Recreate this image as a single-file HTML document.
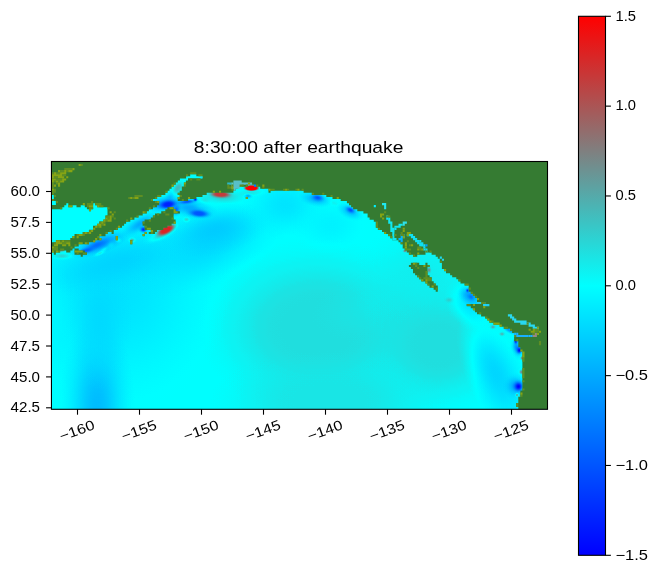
<!DOCTYPE html>
<html><head><meta charset="utf-8"><title>plot</title>
<style>html,body{margin:0;padding:0;background:#fff;width:658px;height:573px;overflow:hidden}svg{display:block;will-change:transform}text{font-family:"Liberation Sans",sans-serif;fill:#000}</style></head><body>
<svg width="658" height="573" viewBox="0 0 658 573">
<defs>
<linearGradient id="cb" x1="0" y1="0" x2="0" y2="1"><stop offset="0" stop-color="#ff0000"/><stop offset="0.5" stop-color="#00ffff"/><stop offset="1" stop-color="#0000ff"/></linearGradient>
<filter id="cm" filterUnits="userSpaceOnUse" x="40" y="150" width="520" height="270" color-interpolation-filters="sRGB"><feComponentTransfer><feFuncR type="table" tableValues="0 0 1"/><feFuncG type="table" tableValues="0 1 0"/><feFuncB type="table" tableValues="1 1 0"/></feComponentTransfer></filter>
<clipPath id="ax"><rect x="51.45" y="161.5" width="496.05" height="247.8"/></clipPath>
<radialGradient id="g1"><stop offset="0.00" stop-color="#717171" stop-opacity="1.000"/><stop offset="0.10" stop-color="#717171" stop-opacity="0.976"/><stop offset="0.20" stop-color="#717171" stop-opacity="0.905"/><stop offset="0.30" stop-color="#717171" stop-opacity="0.798"/><stop offset="0.40" stop-color="#717171" stop-opacity="0.666"/><stop offset="0.50" stop-color="#717171" stop-opacity="0.524"/><stop offset="0.60" stop-color="#717171" stop-opacity="0.385"/><stop offset="0.70" stop-color="#717171" stop-opacity="0.258"/><stop offset="0.80" stop-color="#717171" stop-opacity="0.151"/><stop offset="0.90" stop-color="#717171" stop-opacity="0.065"/><stop offset="1.00" stop-color="#717171" stop-opacity="0.000"/></radialGradient>
<radialGradient id="g2"><stop offset="0.00" stop-color="#5e5e5e" stop-opacity="1.000"/><stop offset="0.10" stop-color="#5e5e5e" stop-opacity="0.973"/><stop offset="0.20" stop-color="#5e5e5e" stop-opacity="0.896"/><stop offset="0.30" stop-color="#5e5e5e" stop-opacity="0.780"/><stop offset="0.40" stop-color="#5e5e5e" stop-opacity="0.641"/><stop offset="0.50" stop-color="#5e5e5e" stop-opacity="0.494"/><stop offset="0.60" stop-color="#5e5e5e" stop-opacity="0.354"/><stop offset="0.70" stop-color="#5e5e5e" stop-opacity="0.231"/><stop offset="0.80" stop-color="#5e5e5e" stop-opacity="0.131"/><stop offset="0.90" stop-color="#5e5e5e" stop-opacity="0.054"/><stop offset="1.00" stop-color="#5e5e5e" stop-opacity="0.000"/></radialGradient>
<radialGradient id="g3"><stop offset="0.00" stop-color="#6d6d6d" stop-opacity="1.000"/><stop offset="0.10" stop-color="#6d6d6d" stop-opacity="0.973"/><stop offset="0.20" stop-color="#6d6d6d" stop-opacity="0.896"/><stop offset="0.30" stop-color="#6d6d6d" stop-opacity="0.780"/><stop offset="0.40" stop-color="#6d6d6d" stop-opacity="0.641"/><stop offset="0.50" stop-color="#6d6d6d" stop-opacity="0.494"/><stop offset="0.60" stop-color="#6d6d6d" stop-opacity="0.354"/><stop offset="0.70" stop-color="#6d6d6d" stop-opacity="0.231"/><stop offset="0.80" stop-color="#6d6d6d" stop-opacity="0.131"/><stop offset="0.90" stop-color="#6d6d6d" stop-opacity="0.054"/><stop offset="1.00" stop-color="#6d6d6d" stop-opacity="0.000"/></radialGradient>
<radialGradient id="g4"><stop offset="0.00" stop-color="#6a6a6a" stop-opacity="1.000"/><stop offset="0.10" stop-color="#6a6a6a" stop-opacity="0.973"/><stop offset="0.20" stop-color="#6a6a6a" stop-opacity="0.896"/><stop offset="0.30" stop-color="#6a6a6a" stop-opacity="0.780"/><stop offset="0.40" stop-color="#6a6a6a" stop-opacity="0.641"/><stop offset="0.50" stop-color="#6a6a6a" stop-opacity="0.494"/><stop offset="0.60" stop-color="#6a6a6a" stop-opacity="0.354"/><stop offset="0.70" stop-color="#6a6a6a" stop-opacity="0.231"/><stop offset="0.80" stop-color="#6a6a6a" stop-opacity="0.131"/><stop offset="0.90" stop-color="#6a6a6a" stop-opacity="0.054"/><stop offset="1.00" stop-color="#6a6a6a" stop-opacity="0.000"/></radialGradient>
<radialGradient id="g5"><stop offset="0.00" stop-color="#6e6e6e" stop-opacity="1.000"/><stop offset="0.10" stop-color="#6e6e6e" stop-opacity="0.976"/><stop offset="0.20" stop-color="#6e6e6e" stop-opacity="0.905"/><stop offset="0.30" stop-color="#6e6e6e" stop-opacity="0.798"/><stop offset="0.40" stop-color="#6e6e6e" stop-opacity="0.666"/><stop offset="0.50" stop-color="#6e6e6e" stop-opacity="0.524"/><stop offset="0.60" stop-color="#6e6e6e" stop-opacity="0.385"/><stop offset="0.70" stop-color="#6e6e6e" stop-opacity="0.258"/><stop offset="0.80" stop-color="#6e6e6e" stop-opacity="0.151"/><stop offset="0.90" stop-color="#6e6e6e" stop-opacity="0.065"/><stop offset="1.00" stop-color="#6e6e6e" stop-opacity="0.000"/></radialGradient>
<radialGradient id="g6"><stop offset="0.00" stop-color="#666666" stop-opacity="1.000"/><stop offset="0.10" stop-color="#666666" stop-opacity="0.976"/><stop offset="0.20" stop-color="#666666" stop-opacity="0.905"/><stop offset="0.30" stop-color="#666666" stop-opacity="0.798"/><stop offset="0.40" stop-color="#666666" stop-opacity="0.666"/><stop offset="0.50" stop-color="#666666" stop-opacity="0.524"/><stop offset="0.60" stop-color="#666666" stop-opacity="0.385"/><stop offset="0.70" stop-color="#666666" stop-opacity="0.258"/><stop offset="0.80" stop-color="#666666" stop-opacity="0.151"/><stop offset="0.90" stop-color="#666666" stop-opacity="0.065"/><stop offset="1.00" stop-color="#666666" stop-opacity="0.000"/></radialGradient>
<radialGradient id="g7"><stop offset="0.00" stop-color="#7b7b7b" stop-opacity="1.000"/><stop offset="0.10" stop-color="#7b7b7b" stop-opacity="0.973"/><stop offset="0.20" stop-color="#7b7b7b" stop-opacity="0.896"/><stop offset="0.30" stop-color="#7b7b7b" stop-opacity="0.780"/><stop offset="0.40" stop-color="#7b7b7b" stop-opacity="0.641"/><stop offset="0.50" stop-color="#7b7b7b" stop-opacity="0.494"/><stop offset="0.60" stop-color="#7b7b7b" stop-opacity="0.354"/><stop offset="0.70" stop-color="#7b7b7b" stop-opacity="0.231"/><stop offset="0.80" stop-color="#7b7b7b" stop-opacity="0.131"/><stop offset="0.90" stop-color="#7b7b7b" stop-opacity="0.054"/><stop offset="1.00" stop-color="#7b7b7b" stop-opacity="0.000"/></radialGradient>
<radialGradient id="g8"><stop offset="0.00" stop-color="#727272" stop-opacity="1.000"/><stop offset="0.10" stop-color="#727272" stop-opacity="0.976"/><stop offset="0.20" stop-color="#727272" stop-opacity="0.905"/><stop offset="0.30" stop-color="#727272" stop-opacity="0.798"/><stop offset="0.40" stop-color="#727272" stop-opacity="0.666"/><stop offset="0.50" stop-color="#727272" stop-opacity="0.524"/><stop offset="0.60" stop-color="#727272" stop-opacity="0.385"/><stop offset="0.70" stop-color="#727272" stop-opacity="0.258"/><stop offset="0.80" stop-color="#727272" stop-opacity="0.151"/><stop offset="0.90" stop-color="#727272" stop-opacity="0.065"/><stop offset="1.00" stop-color="#727272" stop-opacity="0.000"/></radialGradient>
<radialGradient id="g9"><stop offset="0.00" stop-color="#797979" stop-opacity="1.000"/><stop offset="0.10" stop-color="#797979" stop-opacity="0.976"/><stop offset="0.20" stop-color="#797979" stop-opacity="0.905"/><stop offset="0.30" stop-color="#797979" stop-opacity="0.798"/><stop offset="0.40" stop-color="#797979" stop-opacity="0.666"/><stop offset="0.50" stop-color="#797979" stop-opacity="0.524"/><stop offset="0.60" stop-color="#797979" stop-opacity="0.385"/><stop offset="0.70" stop-color="#797979" stop-opacity="0.258"/><stop offset="0.80" stop-color="#797979" stop-opacity="0.151"/><stop offset="0.90" stop-color="#797979" stop-opacity="0.065"/><stop offset="1.00" stop-color="#797979" stop-opacity="0.000"/></radialGradient>
<radialGradient id="g10"><stop offset="0.00" stop-color="#909090" stop-opacity="1.000"/><stop offset="0.10" stop-color="#909090" stop-opacity="1.000"/><stop offset="0.20" stop-color="#909090" stop-opacity="1.000"/><stop offset="0.30" stop-color="#909090" stop-opacity="1.000"/><stop offset="0.40" stop-color="#909090" stop-opacity="0.946"/><stop offset="0.50" stop-color="#909090" stop-opacity="0.799"/><stop offset="0.60" stop-color="#909090" stop-opacity="0.599"/><stop offset="0.70" stop-color="#909090" stop-opacity="0.392"/><stop offset="0.80" stop-color="#909090" stop-opacity="0.215"/><stop offset="0.90" stop-color="#909090" stop-opacity="0.084"/><stop offset="1.00" stop-color="#909090" stop-opacity="0.000"/></radialGradient>
<radialGradient id="g11"><stop offset="0.00" stop-color="#8a8a8a" stop-opacity="1.000"/><stop offset="0.10" stop-color="#8a8a8a" stop-opacity="0.976"/><stop offset="0.20" stop-color="#8a8a8a" stop-opacity="0.905"/><stop offset="0.30" stop-color="#8a8a8a" stop-opacity="0.798"/><stop offset="0.40" stop-color="#8a8a8a" stop-opacity="0.666"/><stop offset="0.50" stop-color="#8a8a8a" stop-opacity="0.524"/><stop offset="0.60" stop-color="#8a8a8a" stop-opacity="0.385"/><stop offset="0.70" stop-color="#8a8a8a" stop-opacity="0.258"/><stop offset="0.80" stop-color="#8a8a8a" stop-opacity="0.151"/><stop offset="0.90" stop-color="#8a8a8a" stop-opacity="0.065"/><stop offset="1.00" stop-color="#8a8a8a" stop-opacity="0.000"/></radialGradient>
<radialGradient id="g12"><stop offset="0.00" stop-color="#909090" stop-opacity="1.000"/><stop offset="0.10" stop-color="#909090" stop-opacity="1.000"/><stop offset="0.20" stop-color="#909090" stop-opacity="1.000"/><stop offset="0.30" stop-color="#909090" stop-opacity="0.988"/><stop offset="0.40" stop-color="#909090" stop-opacity="0.896"/><stop offset="0.50" stop-color="#909090" stop-opacity="0.736"/><stop offset="0.60" stop-color="#909090" stop-opacity="0.543"/><stop offset="0.70" stop-color="#909090" stop-opacity="0.354"/><stop offset="0.80" stop-color="#909090" stop-opacity="0.195"/><stop offset="0.90" stop-color="#909090" stop-opacity="0.077"/><stop offset="1.00" stop-color="#909090" stop-opacity="0.000"/></radialGradient>
<radialGradient id="g13"><stop offset="0.00" stop-color="#888888" stop-opacity="1.000"/><stop offset="0.10" stop-color="#888888" stop-opacity="0.976"/><stop offset="0.20" stop-color="#888888" stop-opacity="0.905"/><stop offset="0.30" stop-color="#888888" stop-opacity="0.798"/><stop offset="0.40" stop-color="#888888" stop-opacity="0.666"/><stop offset="0.50" stop-color="#888888" stop-opacity="0.524"/><stop offset="0.60" stop-color="#888888" stop-opacity="0.385"/><stop offset="0.70" stop-color="#888888" stop-opacity="0.258"/><stop offset="0.80" stop-color="#888888" stop-opacity="0.151"/><stop offset="0.90" stop-color="#888888" stop-opacity="0.065"/><stop offset="1.00" stop-color="#888888" stop-opacity="0.000"/></radialGradient>
<radialGradient id="g14"><stop offset="0.00" stop-color="#8c8c8c" stop-opacity="1.000"/><stop offset="0.10" stop-color="#8c8c8c" stop-opacity="1.000"/><stop offset="0.20" stop-color="#8c8c8c" stop-opacity="1.000"/><stop offset="0.30" stop-color="#8c8c8c" stop-opacity="1.000"/><stop offset="0.40" stop-color="#8c8c8c" stop-opacity="0.946"/><stop offset="0.50" stop-color="#8c8c8c" stop-opacity="0.799"/><stop offset="0.60" stop-color="#8c8c8c" stop-opacity="0.599"/><stop offset="0.70" stop-color="#8c8c8c" stop-opacity="0.392"/><stop offset="0.80" stop-color="#8c8c8c" stop-opacity="0.215"/><stop offset="0.90" stop-color="#8c8c8c" stop-opacity="0.084"/><stop offset="1.00" stop-color="#8c8c8c" stop-opacity="0.000"/></radialGradient>
<radialGradient id="g15"><stop offset="0.00" stop-color="#6b6b6b" stop-opacity="1.000"/><stop offset="0.10" stop-color="#6b6b6b" stop-opacity="0.977"/><stop offset="0.20" stop-color="#6b6b6b" stop-opacity="0.911"/><stop offset="0.30" stop-color="#6b6b6b" stop-opacity="0.809"/><stop offset="0.40" stop-color="#6b6b6b" stop-opacity="0.683"/><stop offset="0.50" stop-color="#6b6b6b" stop-opacity="0.545"/><stop offset="0.60" stop-color="#6b6b6b" stop-opacity="0.406"/><stop offset="0.70" stop-color="#6b6b6b" stop-opacity="0.278"/><stop offset="0.80" stop-color="#6b6b6b" stop-opacity="0.165"/><stop offset="0.90" stop-color="#6b6b6b" stop-opacity="0.072"/><stop offset="1.00" stop-color="#6b6b6b" stop-opacity="0.000"/></radialGradient>
<radialGradient id="g16"><stop offset="0.00" stop-color="#737373" stop-opacity="1.000"/><stop offset="0.10" stop-color="#737373" stop-opacity="0.976"/><stop offset="0.20" stop-color="#737373" stop-opacity="0.905"/><stop offset="0.30" stop-color="#737373" stop-opacity="0.798"/><stop offset="0.40" stop-color="#737373" stop-opacity="0.666"/><stop offset="0.50" stop-color="#737373" stop-opacity="0.524"/><stop offset="0.60" stop-color="#737373" stop-opacity="0.385"/><stop offset="0.70" stop-color="#737373" stop-opacity="0.258"/><stop offset="0.80" stop-color="#737373" stop-opacity="0.151"/><stop offset="0.90" stop-color="#737373" stop-opacity="0.065"/><stop offset="1.00" stop-color="#737373" stop-opacity="0.000"/></radialGradient>
<radialGradient id="g17"><stop offset="0.00" stop-color="#444444" stop-opacity="1.000"/><stop offset="0.10" stop-color="#444444" stop-opacity="0.973"/><stop offset="0.20" stop-color="#444444" stop-opacity="0.896"/><stop offset="0.30" stop-color="#444444" stop-opacity="0.780"/><stop offset="0.40" stop-color="#444444" stop-opacity="0.641"/><stop offset="0.50" stop-color="#444444" stop-opacity="0.494"/><stop offset="0.60" stop-color="#444444" stop-opacity="0.354"/><stop offset="0.70" stop-color="#444444" stop-opacity="0.231"/><stop offset="0.80" stop-color="#444444" stop-opacity="0.131"/><stop offset="0.90" stop-color="#444444" stop-opacity="0.054"/><stop offset="1.00" stop-color="#444444" stop-opacity="0.000"/></radialGradient>
<radialGradient id="g18"><stop offset="0.00" stop-color="#333333" stop-opacity="1.000"/><stop offset="0.10" stop-color="#333333" stop-opacity="0.960"/><stop offset="0.20" stop-color="#333333" stop-opacity="0.849"/><stop offset="0.30" stop-color="#333333" stop-opacity="0.692"/><stop offset="0.40" stop-color="#333333" stop-opacity="0.518"/><stop offset="0.50" stop-color="#333333" stop-opacity="0.356"/><stop offset="0.60" stop-color="#333333" stop-opacity="0.223"/><stop offset="0.70" stop-color="#333333" stop-opacity="0.125"/><stop offset="0.80" stop-color="#333333" stop-opacity="0.060"/><stop offset="0.90" stop-color="#333333" stop-opacity="0.021"/><stop offset="1.00" stop-color="#333333" stop-opacity="0.000"/></radialGradient>
<radialGradient id="g19"><stop offset="0.00" stop-color="#373737" stop-opacity="1.000"/><stop offset="0.10" stop-color="#373737" stop-opacity="0.960"/><stop offset="0.20" stop-color="#373737" stop-opacity="0.849"/><stop offset="0.30" stop-color="#373737" stop-opacity="0.692"/><stop offset="0.40" stop-color="#373737" stop-opacity="0.518"/><stop offset="0.50" stop-color="#373737" stop-opacity="0.356"/><stop offset="0.60" stop-color="#373737" stop-opacity="0.223"/><stop offset="0.70" stop-color="#373737" stop-opacity="0.125"/><stop offset="0.80" stop-color="#373737" stop-opacity="0.060"/><stop offset="0.90" stop-color="#373737" stop-opacity="0.021"/><stop offset="1.00" stop-color="#373737" stop-opacity="0.000"/></radialGradient>
<radialGradient id="g20"><stop offset="0.00" stop-color="#2b2b2b" stop-opacity="1.000"/><stop offset="0.10" stop-color="#2b2b2b" stop-opacity="0.960"/><stop offset="0.20" stop-color="#2b2b2b" stop-opacity="0.849"/><stop offset="0.30" stop-color="#2b2b2b" stop-opacity="0.692"/><stop offset="0.40" stop-color="#2b2b2b" stop-opacity="0.518"/><stop offset="0.50" stop-color="#2b2b2b" stop-opacity="0.356"/><stop offset="0.60" stop-color="#2b2b2b" stop-opacity="0.223"/><stop offset="0.70" stop-color="#2b2b2b" stop-opacity="0.125"/><stop offset="0.80" stop-color="#2b2b2b" stop-opacity="0.060"/><stop offset="0.90" stop-color="#2b2b2b" stop-opacity="0.021"/><stop offset="1.00" stop-color="#2b2b2b" stop-opacity="0.000"/></radialGradient>
<radialGradient id="g21"><stop offset="0.00" stop-color="#959595" stop-opacity="1.000"/><stop offset="0.10" stop-color="#959595" stop-opacity="0.960"/><stop offset="0.20" stop-color="#959595" stop-opacity="0.849"/><stop offset="0.30" stop-color="#959595" stop-opacity="0.692"/><stop offset="0.40" stop-color="#959595" stop-opacity="0.518"/><stop offset="0.50" stop-color="#959595" stop-opacity="0.356"/><stop offset="0.60" stop-color="#959595" stop-opacity="0.223"/><stop offset="0.70" stop-color="#959595" stop-opacity="0.125"/><stop offset="0.80" stop-color="#959595" stop-opacity="0.060"/><stop offset="0.90" stop-color="#959595" stop-opacity="0.021"/><stop offset="1.00" stop-color="#959595" stop-opacity="0.000"/></radialGradient>
<radialGradient id="g22"><stop offset="0.00" stop-color="#929292" stop-opacity="1.000"/><stop offset="0.10" stop-color="#929292" stop-opacity="0.960"/><stop offset="0.20" stop-color="#929292" stop-opacity="0.849"/><stop offset="0.30" stop-color="#929292" stop-opacity="0.692"/><stop offset="0.40" stop-color="#929292" stop-opacity="0.518"/><stop offset="0.50" stop-color="#929292" stop-opacity="0.356"/><stop offset="0.60" stop-color="#929292" stop-opacity="0.223"/><stop offset="0.70" stop-color="#929292" stop-opacity="0.125"/><stop offset="0.80" stop-color="#929292" stop-opacity="0.060"/><stop offset="0.90" stop-color="#929292" stop-opacity="0.021"/><stop offset="1.00" stop-color="#929292" stop-opacity="0.000"/></radialGradient>
<radialGradient id="g23"><stop offset="0.00" stop-color="#929292" stop-opacity="1.000"/><stop offset="0.10" stop-color="#929292" stop-opacity="0.960"/><stop offset="0.20" stop-color="#929292" stop-opacity="0.849"/><stop offset="0.30" stop-color="#929292" stop-opacity="0.692"/><stop offset="0.40" stop-color="#929292" stop-opacity="0.518"/><stop offset="0.50" stop-color="#929292" stop-opacity="0.356"/><stop offset="0.60" stop-color="#929292" stop-opacity="0.223"/><stop offset="0.70" stop-color="#929292" stop-opacity="0.125"/><stop offset="0.80" stop-color="#929292" stop-opacity="0.060"/><stop offset="0.90" stop-color="#929292" stop-opacity="0.021"/><stop offset="1.00" stop-color="#929292" stop-opacity="0.000"/></radialGradient>
<radialGradient id="g24"><stop offset="0.00" stop-color="#a6a6a6" stop-opacity="1.000"/><stop offset="0.10" stop-color="#a6a6a6" stop-opacity="0.960"/><stop offset="0.20" stop-color="#a6a6a6" stop-opacity="0.849"/><stop offset="0.30" stop-color="#a6a6a6" stop-opacity="0.692"/><stop offset="0.40" stop-color="#a6a6a6" stop-opacity="0.518"/><stop offset="0.50" stop-color="#a6a6a6" stop-opacity="0.356"/><stop offset="0.60" stop-color="#a6a6a6" stop-opacity="0.223"/><stop offset="0.70" stop-color="#a6a6a6" stop-opacity="0.125"/><stop offset="0.80" stop-color="#a6a6a6" stop-opacity="0.060"/><stop offset="0.90" stop-color="#a6a6a6" stop-opacity="0.021"/><stop offset="1.00" stop-color="#a6a6a6" stop-opacity="0.000"/></radialGradient>
<radialGradient id="g25"><stop offset="0.00" stop-color="#999999" stop-opacity="1.000"/><stop offset="0.10" stop-color="#999999" stop-opacity="0.960"/><stop offset="0.20" stop-color="#999999" stop-opacity="0.849"/><stop offset="0.30" stop-color="#999999" stop-opacity="0.692"/><stop offset="0.40" stop-color="#999999" stop-opacity="0.518"/><stop offset="0.50" stop-color="#999999" stop-opacity="0.356"/><stop offset="0.60" stop-color="#999999" stop-opacity="0.223"/><stop offset="0.70" stop-color="#999999" stop-opacity="0.125"/><stop offset="0.80" stop-color="#999999" stop-opacity="0.060"/><stop offset="0.90" stop-color="#999999" stop-opacity="0.021"/><stop offset="1.00" stop-color="#999999" stop-opacity="0.000"/></radialGradient>
<radialGradient id="g26"><stop offset="0.00" stop-color="#c3c3c3" stop-opacity="1.000"/><stop offset="0.10" stop-color="#c3c3c3" stop-opacity="0.960"/><stop offset="0.20" stop-color="#c3c3c3" stop-opacity="0.849"/><stop offset="0.30" stop-color="#c3c3c3" stop-opacity="0.692"/><stop offset="0.40" stop-color="#c3c3c3" stop-opacity="0.518"/><stop offset="0.50" stop-color="#c3c3c3" stop-opacity="0.356"/><stop offset="0.60" stop-color="#c3c3c3" stop-opacity="0.223"/><stop offset="0.70" stop-color="#c3c3c3" stop-opacity="0.125"/><stop offset="0.80" stop-color="#c3c3c3" stop-opacity="0.060"/><stop offset="0.90" stop-color="#c3c3c3" stop-opacity="0.021"/><stop offset="1.00" stop-color="#c3c3c3" stop-opacity="0.000"/></radialGradient>
<radialGradient id="g27"><stop offset="0.00" stop-color="#959595" stop-opacity="1.000"/><stop offset="0.10" stop-color="#959595" stop-opacity="0.960"/><stop offset="0.20" stop-color="#959595" stop-opacity="0.849"/><stop offset="0.30" stop-color="#959595" stop-opacity="0.692"/><stop offset="0.40" stop-color="#959595" stop-opacity="0.518"/><stop offset="0.50" stop-color="#959595" stop-opacity="0.356"/><stop offset="0.60" stop-color="#959595" stop-opacity="0.223"/><stop offset="0.70" stop-color="#959595" stop-opacity="0.125"/><stop offset="0.80" stop-color="#959595" stop-opacity="0.060"/><stop offset="0.90" stop-color="#959595" stop-opacity="0.021"/><stop offset="1.00" stop-color="#959595" stop-opacity="0.000"/></radialGradient>
<radialGradient id="g28"><stop offset="0.00" stop-color="#555555" stop-opacity="1.000"/><stop offset="0.10" stop-color="#555555" stop-opacity="0.973"/><stop offset="0.20" stop-color="#555555" stop-opacity="0.896"/><stop offset="0.30" stop-color="#555555" stop-opacity="0.780"/><stop offset="0.40" stop-color="#555555" stop-opacity="0.641"/><stop offset="0.50" stop-color="#555555" stop-opacity="0.494"/><stop offset="0.60" stop-color="#555555" stop-opacity="0.354"/><stop offset="0.70" stop-color="#555555" stop-opacity="0.231"/><stop offset="0.80" stop-color="#555555" stop-opacity="0.131"/><stop offset="0.90" stop-color="#555555" stop-opacity="0.054"/><stop offset="1.00" stop-color="#555555" stop-opacity="0.000"/></radialGradient>
<radialGradient id="g29"><stop offset="0.00" stop-color="#111111" stop-opacity="1.000"/><stop offset="0.10" stop-color="#111111" stop-opacity="0.960"/><stop offset="0.20" stop-color="#111111" stop-opacity="0.849"/><stop offset="0.30" stop-color="#111111" stop-opacity="0.692"/><stop offset="0.40" stop-color="#111111" stop-opacity="0.518"/><stop offset="0.50" stop-color="#111111" stop-opacity="0.356"/><stop offset="0.60" stop-color="#111111" stop-opacity="0.223"/><stop offset="0.70" stop-color="#111111" stop-opacity="0.125"/><stop offset="0.80" stop-color="#111111" stop-opacity="0.060"/><stop offset="0.90" stop-color="#111111" stop-opacity="0.021"/><stop offset="1.00" stop-color="#111111" stop-opacity="0.000"/></radialGradient>
<radialGradient id="g30"><stop offset="0.00" stop-color="#444444" stop-opacity="1.000"/><stop offset="0.10" stop-color="#444444" stop-opacity="0.973"/><stop offset="0.20" stop-color="#444444" stop-opacity="0.896"/><stop offset="0.30" stop-color="#444444" stop-opacity="0.780"/><stop offset="0.40" stop-color="#444444" stop-opacity="0.641"/><stop offset="0.50" stop-color="#444444" stop-opacity="0.494"/><stop offset="0.60" stop-color="#444444" stop-opacity="0.354"/><stop offset="0.70" stop-color="#444444" stop-opacity="0.231"/><stop offset="0.80" stop-color="#444444" stop-opacity="0.131"/><stop offset="0.90" stop-color="#444444" stop-opacity="0.054"/><stop offset="1.00" stop-color="#444444" stop-opacity="0.000"/></radialGradient>
<radialGradient id="g31"><stop offset="0.00" stop-color="#111111" stop-opacity="1.000"/><stop offset="0.10" stop-color="#111111" stop-opacity="1.000"/><stop offset="0.20" stop-color="#111111" stop-opacity="1.000"/><stop offset="0.30" stop-color="#111111" stop-opacity="0.938"/><stop offset="0.40" stop-color="#111111" stop-opacity="0.775"/><stop offset="0.50" stop-color="#111111" stop-opacity="0.562"/><stop offset="0.60" stop-color="#111111" stop-opacity="0.356"/><stop offset="0.70" stop-color="#111111" stop-opacity="0.195"/><stop offset="0.80" stop-color="#111111" stop-opacity="0.089"/><stop offset="0.90" stop-color="#111111" stop-opacity="0.029"/><stop offset="1.00" stop-color="#111111" stop-opacity="0.000"/></radialGradient>
<radialGradient id="g32"><stop offset="0.00" stop-color="#333333" stop-opacity="1.000"/><stop offset="0.10" stop-color="#333333" stop-opacity="0.960"/><stop offset="0.20" stop-color="#333333" stop-opacity="0.849"/><stop offset="0.30" stop-color="#333333" stop-opacity="0.692"/><stop offset="0.40" stop-color="#333333" stop-opacity="0.518"/><stop offset="0.50" stop-color="#333333" stop-opacity="0.356"/><stop offset="0.60" stop-color="#333333" stop-opacity="0.223"/><stop offset="0.70" stop-color="#333333" stop-opacity="0.125"/><stop offset="0.80" stop-color="#333333" stop-opacity="0.060"/><stop offset="0.90" stop-color="#333333" stop-opacity="0.021"/><stop offset="1.00" stop-color="#333333" stop-opacity="0.000"/></radialGradient>
<radialGradient id="g33"><stop offset="0.00" stop-color="#555555" stop-opacity="1.000"/><stop offset="0.10" stop-color="#555555" stop-opacity="0.973"/><stop offset="0.20" stop-color="#555555" stop-opacity="0.896"/><stop offset="0.30" stop-color="#555555" stop-opacity="0.780"/><stop offset="0.40" stop-color="#555555" stop-opacity="0.641"/><stop offset="0.50" stop-color="#555555" stop-opacity="0.494"/><stop offset="0.60" stop-color="#555555" stop-opacity="0.354"/><stop offset="0.70" stop-color="#555555" stop-opacity="0.231"/><stop offset="0.80" stop-color="#555555" stop-opacity="0.131"/><stop offset="0.90" stop-color="#555555" stop-opacity="0.054"/><stop offset="1.00" stop-color="#555555" stop-opacity="0.000"/></radialGradient>
<radialGradient id="g34"><stop offset="0.00" stop-color="#2b2b2b" stop-opacity="1.000"/><stop offset="0.10" stop-color="#2b2b2b" stop-opacity="1.000"/><stop offset="0.20" stop-color="#2b2b2b" stop-opacity="1.000"/><stop offset="0.30" stop-color="#2b2b2b" stop-opacity="0.938"/><stop offset="0.40" stop-color="#2b2b2b" stop-opacity="0.775"/><stop offset="0.50" stop-color="#2b2b2b" stop-opacity="0.562"/><stop offset="0.60" stop-color="#2b2b2b" stop-opacity="0.356"/><stop offset="0.70" stop-color="#2b2b2b" stop-opacity="0.195"/><stop offset="0.80" stop-color="#2b2b2b" stop-opacity="0.089"/><stop offset="0.90" stop-color="#2b2b2b" stop-opacity="0.029"/><stop offset="1.00" stop-color="#2b2b2b" stop-opacity="0.000"/></radialGradient>
<radialGradient id="g35"><stop offset="0.00" stop-color="#2b2b2b" stop-opacity="1.000"/><stop offset="0.10" stop-color="#2b2b2b" stop-opacity="0.960"/><stop offset="0.20" stop-color="#2b2b2b" stop-opacity="0.849"/><stop offset="0.30" stop-color="#2b2b2b" stop-opacity="0.692"/><stop offset="0.40" stop-color="#2b2b2b" stop-opacity="0.518"/><stop offset="0.50" stop-color="#2b2b2b" stop-opacity="0.356"/><stop offset="0.60" stop-color="#2b2b2b" stop-opacity="0.223"/><stop offset="0.70" stop-color="#2b2b2b" stop-opacity="0.125"/><stop offset="0.80" stop-color="#2b2b2b" stop-opacity="0.060"/><stop offset="0.90" stop-color="#2b2b2b" stop-opacity="0.021"/><stop offset="1.00" stop-color="#2b2b2b" stop-opacity="0.000"/></radialGradient>
<radialGradient id="g36"><stop offset="0.00" stop-color="#090909" stop-opacity="1.000"/><stop offset="0.10" stop-color="#090909" stop-opacity="0.960"/><stop offset="0.20" stop-color="#090909" stop-opacity="0.849"/><stop offset="0.30" stop-color="#090909" stop-opacity="0.692"/><stop offset="0.40" stop-color="#090909" stop-opacity="0.518"/><stop offset="0.50" stop-color="#090909" stop-opacity="0.356"/><stop offset="0.60" stop-color="#090909" stop-opacity="0.223"/><stop offset="0.70" stop-color="#090909" stop-opacity="0.125"/><stop offset="0.80" stop-color="#090909" stop-opacity="0.060"/><stop offset="0.90" stop-color="#090909" stop-opacity="0.021"/><stop offset="1.00" stop-color="#090909" stop-opacity="0.000"/></radialGradient>
<radialGradient id="g37"><stop offset="0.00" stop-color="#959595" stop-opacity="1.000"/><stop offset="0.10" stop-color="#959595" stop-opacity="0.960"/><stop offset="0.20" stop-color="#959595" stop-opacity="0.849"/><stop offset="0.30" stop-color="#959595" stop-opacity="0.692"/><stop offset="0.40" stop-color="#959595" stop-opacity="0.518"/><stop offset="0.50" stop-color="#959595" stop-opacity="0.356"/><stop offset="0.60" stop-color="#959595" stop-opacity="0.223"/><stop offset="0.70" stop-color="#959595" stop-opacity="0.125"/><stop offset="0.80" stop-color="#959595" stop-opacity="0.060"/><stop offset="0.90" stop-color="#959595" stop-opacity="0.021"/><stop offset="1.00" stop-color="#959595" stop-opacity="0.000"/></radialGradient>
<radialGradient id="g38"><stop offset="0.00" stop-color="#909090" stop-opacity="1.000"/><stop offset="0.10" stop-color="#909090" stop-opacity="0.960"/><stop offset="0.20" stop-color="#909090" stop-opacity="0.849"/><stop offset="0.30" stop-color="#909090" stop-opacity="0.692"/><stop offset="0.40" stop-color="#909090" stop-opacity="0.518"/><stop offset="0.50" stop-color="#909090" stop-opacity="0.356"/><stop offset="0.60" stop-color="#909090" stop-opacity="0.223"/><stop offset="0.70" stop-color="#909090" stop-opacity="0.125"/><stop offset="0.80" stop-color="#909090" stop-opacity="0.060"/><stop offset="0.90" stop-color="#909090" stop-opacity="0.021"/><stop offset="1.00" stop-color="#909090" stop-opacity="0.000"/></radialGradient>
<radialGradient id="g39"><stop offset="0.00" stop-color="#a2a2a2" stop-opacity="1.000"/><stop offset="0.10" stop-color="#a2a2a2" stop-opacity="0.960"/><stop offset="0.20" stop-color="#a2a2a2" stop-opacity="0.849"/><stop offset="0.30" stop-color="#a2a2a2" stop-opacity="0.692"/><stop offset="0.40" stop-color="#a2a2a2" stop-opacity="0.518"/><stop offset="0.50" stop-color="#a2a2a2" stop-opacity="0.356"/><stop offset="0.60" stop-color="#a2a2a2" stop-opacity="0.223"/><stop offset="0.70" stop-color="#a2a2a2" stop-opacity="0.125"/><stop offset="0.80" stop-color="#a2a2a2" stop-opacity="0.060"/><stop offset="0.90" stop-color="#a2a2a2" stop-opacity="0.021"/><stop offset="1.00" stop-color="#a2a2a2" stop-opacity="0.000"/></radialGradient>
<radialGradient id="g40"><stop offset="0.00" stop-color="#666666" stop-opacity="1.000"/><stop offset="0.10" stop-color="#666666" stop-opacity="0.960"/><stop offset="0.20" stop-color="#666666" stop-opacity="0.849"/><stop offset="0.30" stop-color="#666666" stop-opacity="0.692"/><stop offset="0.40" stop-color="#666666" stop-opacity="0.518"/><stop offset="0.50" stop-color="#666666" stop-opacity="0.356"/><stop offset="0.60" stop-color="#666666" stop-opacity="0.223"/><stop offset="0.70" stop-color="#666666" stop-opacity="0.125"/><stop offset="0.80" stop-color="#666666" stop-opacity="0.060"/><stop offset="0.90" stop-color="#666666" stop-opacity="0.021"/><stop offset="1.00" stop-color="#666666" stop-opacity="0.000"/></radialGradient>
<radialGradient id="g41"><stop offset="0.00" stop-color="#ececec" stop-opacity="1.000"/><stop offset="0.10" stop-color="#ececec" stop-opacity="1.000"/><stop offset="0.20" stop-color="#ececec" stop-opacity="1.000"/><stop offset="0.30" stop-color="#ececec" stop-opacity="1.000"/><stop offset="0.40" stop-color="#ececec" stop-opacity="0.920"/><stop offset="0.50" stop-color="#ececec" stop-opacity="0.716"/><stop offset="0.60" stop-color="#ececec" stop-opacity="0.470"/><stop offset="0.70" stop-color="#ececec" stop-opacity="0.257"/><stop offset="0.80" stop-color="#ececec" stop-opacity="0.114"/><stop offset="0.90" stop-color="#ececec" stop-opacity="0.035"/><stop offset="1.00" stop-color="#ececec" stop-opacity="0.000"/></radialGradient>
<radialGradient id="g42"><stop offset="0.00" stop-color="#909090" stop-opacity="1.000"/><stop offset="0.10" stop-color="#909090" stop-opacity="0.960"/><stop offset="0.20" stop-color="#909090" stop-opacity="0.849"/><stop offset="0.30" stop-color="#909090" stop-opacity="0.692"/><stop offset="0.40" stop-color="#909090" stop-opacity="0.518"/><stop offset="0.50" stop-color="#909090" stop-opacity="0.356"/><stop offset="0.60" stop-color="#909090" stop-opacity="0.223"/><stop offset="0.70" stop-color="#909090" stop-opacity="0.125"/><stop offset="0.80" stop-color="#909090" stop-opacity="0.060"/><stop offset="0.90" stop-color="#909090" stop-opacity="0.021"/><stop offset="1.00" stop-color="#909090" stop-opacity="0.000"/></radialGradient>
<radialGradient id="g43"><stop offset="0.00" stop-color="#e1e1e1" stop-opacity="1.000"/><stop offset="0.10" stop-color="#e1e1e1" stop-opacity="1.000"/><stop offset="0.20" stop-color="#e1e1e1" stop-opacity="1.000"/><stop offset="0.30" stop-color="#e1e1e1" stop-opacity="1.000"/><stop offset="0.40" stop-color="#e1e1e1" stop-opacity="0.920"/><stop offset="0.50" stop-color="#e1e1e1" stop-opacity="0.716"/><stop offset="0.60" stop-color="#e1e1e1" stop-opacity="0.470"/><stop offset="0.70" stop-color="#e1e1e1" stop-opacity="0.257"/><stop offset="0.80" stop-color="#e1e1e1" stop-opacity="0.114"/><stop offset="0.90" stop-color="#e1e1e1" stop-opacity="0.035"/><stop offset="1.00" stop-color="#e1e1e1" stop-opacity="0.000"/></radialGradient>
<radialGradient id="g44"><stop offset="0.00" stop-color="#999999" stop-opacity="1.000"/><stop offset="0.10" stop-color="#999999" stop-opacity="0.973"/><stop offset="0.20" stop-color="#999999" stop-opacity="0.896"/><stop offset="0.30" stop-color="#999999" stop-opacity="0.780"/><stop offset="0.40" stop-color="#999999" stop-opacity="0.641"/><stop offset="0.50" stop-color="#999999" stop-opacity="0.494"/><stop offset="0.60" stop-color="#999999" stop-opacity="0.354"/><stop offset="0.70" stop-color="#999999" stop-opacity="0.231"/><stop offset="0.80" stop-color="#999999" stop-opacity="0.131"/><stop offset="0.90" stop-color="#999999" stop-opacity="0.054"/><stop offset="1.00" stop-color="#999999" stop-opacity="0.000"/></radialGradient>
<radialGradient id="g45"><stop offset="0.00" stop-color="#ffffff" stop-opacity="1.000"/><stop offset="0.10" stop-color="#ffffff" stop-opacity="1.000"/><stop offset="0.20" stop-color="#ffffff" stop-opacity="1.000"/><stop offset="0.30" stop-color="#ffffff" stop-opacity="1.000"/><stop offset="0.40" stop-color="#ffffff" stop-opacity="1.000"/><stop offset="0.50" stop-color="#ffffff" stop-opacity="1.000"/><stop offset="0.60" stop-color="#ffffff" stop-opacity="0.951"/><stop offset="0.70" stop-color="#ffffff" stop-opacity="0.634"/><stop offset="0.80" stop-color="#ffffff" stop-opacity="0.278"/><stop offset="0.90" stop-color="#ffffff" stop-opacity="0.072"/><stop offset="1.00" stop-color="#ffffff" stop-opacity="0.000"/></radialGradient>
<radialGradient id="g46"><stop offset="0.00" stop-color="#8c8c8c" stop-opacity="1.000"/><stop offset="0.10" stop-color="#8c8c8c" stop-opacity="0.960"/><stop offset="0.20" stop-color="#8c8c8c" stop-opacity="0.849"/><stop offset="0.30" stop-color="#8c8c8c" stop-opacity="0.692"/><stop offset="0.40" stop-color="#8c8c8c" stop-opacity="0.518"/><stop offset="0.50" stop-color="#8c8c8c" stop-opacity="0.356"/><stop offset="0.60" stop-color="#8c8c8c" stop-opacity="0.223"/><stop offset="0.70" stop-color="#8c8c8c" stop-opacity="0.125"/><stop offset="0.80" stop-color="#8c8c8c" stop-opacity="0.060"/><stop offset="0.90" stop-color="#8c8c8c" stop-opacity="0.021"/><stop offset="1.00" stop-color="#8c8c8c" stop-opacity="0.000"/></radialGradient>
<radialGradient id="g47"><stop offset="0.00" stop-color="#555555" stop-opacity="1.000"/><stop offset="0.10" stop-color="#555555" stop-opacity="0.960"/><stop offset="0.20" stop-color="#555555" stop-opacity="0.849"/><stop offset="0.30" stop-color="#555555" stop-opacity="0.692"/><stop offset="0.40" stop-color="#555555" stop-opacity="0.518"/><stop offset="0.50" stop-color="#555555" stop-opacity="0.356"/><stop offset="0.60" stop-color="#555555" stop-opacity="0.223"/><stop offset="0.70" stop-color="#555555" stop-opacity="0.125"/><stop offset="0.80" stop-color="#555555" stop-opacity="0.060"/><stop offset="0.90" stop-color="#555555" stop-opacity="0.021"/><stop offset="1.00" stop-color="#555555" stop-opacity="0.000"/></radialGradient>
<radialGradient id="g48"><stop offset="0.00" stop-color="#8c8c8c" stop-opacity="1.000"/><stop offset="0.10" stop-color="#8c8c8c" stop-opacity="0.960"/><stop offset="0.20" stop-color="#8c8c8c" stop-opacity="0.849"/><stop offset="0.30" stop-color="#8c8c8c" stop-opacity="0.692"/><stop offset="0.40" stop-color="#8c8c8c" stop-opacity="0.518"/><stop offset="0.50" stop-color="#8c8c8c" stop-opacity="0.356"/><stop offset="0.60" stop-color="#8c8c8c" stop-opacity="0.223"/><stop offset="0.70" stop-color="#8c8c8c" stop-opacity="0.125"/><stop offset="0.80" stop-color="#8c8c8c" stop-opacity="0.060"/><stop offset="0.90" stop-color="#8c8c8c" stop-opacity="0.021"/><stop offset="1.00" stop-color="#8c8c8c" stop-opacity="0.000"/></radialGradient>
<radialGradient id="g49"><stop offset="0.00" stop-color="#2b2b2b" stop-opacity="1.000"/><stop offset="0.10" stop-color="#2b2b2b" stop-opacity="0.960"/><stop offset="0.20" stop-color="#2b2b2b" stop-opacity="0.849"/><stop offset="0.30" stop-color="#2b2b2b" stop-opacity="0.692"/><stop offset="0.40" stop-color="#2b2b2b" stop-opacity="0.518"/><stop offset="0.50" stop-color="#2b2b2b" stop-opacity="0.356"/><stop offset="0.60" stop-color="#2b2b2b" stop-opacity="0.223"/><stop offset="0.70" stop-color="#2b2b2b" stop-opacity="0.125"/><stop offset="0.80" stop-color="#2b2b2b" stop-opacity="0.060"/><stop offset="0.90" stop-color="#2b2b2b" stop-opacity="0.021"/><stop offset="1.00" stop-color="#2b2b2b" stop-opacity="0.000"/></radialGradient>
<radialGradient id="g50"><stop offset="0.00" stop-color="#595959" stop-opacity="1.000"/><stop offset="0.10" stop-color="#595959" stop-opacity="0.973"/><stop offset="0.20" stop-color="#595959" stop-opacity="0.896"/><stop offset="0.30" stop-color="#595959" stop-opacity="0.780"/><stop offset="0.40" stop-color="#595959" stop-opacity="0.641"/><stop offset="0.50" stop-color="#595959" stop-opacity="0.494"/><stop offset="0.60" stop-color="#595959" stop-opacity="0.354"/><stop offset="0.70" stop-color="#595959" stop-opacity="0.231"/><stop offset="0.80" stop-color="#595959" stop-opacity="0.131"/><stop offset="0.90" stop-color="#595959" stop-opacity="0.054"/><stop offset="1.00" stop-color="#595959" stop-opacity="0.000"/></radialGradient>
<radialGradient id="g51"><stop offset="0.00" stop-color="#262626" stop-opacity="1.000"/><stop offset="0.10" stop-color="#262626" stop-opacity="0.960"/><stop offset="0.20" stop-color="#262626" stop-opacity="0.849"/><stop offset="0.30" stop-color="#262626" stop-opacity="0.692"/><stop offset="0.40" stop-color="#262626" stop-opacity="0.518"/><stop offset="0.50" stop-color="#262626" stop-opacity="0.356"/><stop offset="0.60" stop-color="#262626" stop-opacity="0.223"/><stop offset="0.70" stop-color="#262626" stop-opacity="0.125"/><stop offset="0.80" stop-color="#262626" stop-opacity="0.060"/><stop offset="0.90" stop-color="#262626" stop-opacity="0.021"/><stop offset="1.00" stop-color="#262626" stop-opacity="0.000"/></radialGradient>
<radialGradient id="g52"><stop offset="0.00" stop-color="#5e5e5e" stop-opacity="1.000"/><stop offset="0.10" stop-color="#5e5e5e" stop-opacity="0.973"/><stop offset="0.20" stop-color="#5e5e5e" stop-opacity="0.896"/><stop offset="0.30" stop-color="#5e5e5e" stop-opacity="0.780"/><stop offset="0.40" stop-color="#5e5e5e" stop-opacity="0.641"/><stop offset="0.50" stop-color="#5e5e5e" stop-opacity="0.494"/><stop offset="0.60" stop-color="#5e5e5e" stop-opacity="0.354"/><stop offset="0.70" stop-color="#5e5e5e" stop-opacity="0.231"/><stop offset="0.80" stop-color="#5e5e5e" stop-opacity="0.131"/><stop offset="0.90" stop-color="#5e5e5e" stop-opacity="0.054"/><stop offset="1.00" stop-color="#5e5e5e" stop-opacity="0.000"/></radialGradient>
<radialGradient id="g53"><stop offset="0.00" stop-color="#868686" stop-opacity="1.000"/><stop offset="0.10" stop-color="#868686" stop-opacity="0.960"/><stop offset="0.20" stop-color="#868686" stop-opacity="0.849"/><stop offset="0.30" stop-color="#868686" stop-opacity="0.692"/><stop offset="0.40" stop-color="#868686" stop-opacity="0.518"/><stop offset="0.50" stop-color="#868686" stop-opacity="0.356"/><stop offset="0.60" stop-color="#868686" stop-opacity="0.223"/><stop offset="0.70" stop-color="#868686" stop-opacity="0.125"/><stop offset="0.80" stop-color="#868686" stop-opacity="0.060"/><stop offset="0.90" stop-color="#868686" stop-opacity="0.021"/><stop offset="1.00" stop-color="#868686" stop-opacity="0.000"/></radialGradient>
<radialGradient id="g54"><stop offset="0.00" stop-color="#c3c3c3" stop-opacity="1.000"/><stop offset="0.10" stop-color="#c3c3c3" stop-opacity="0.960"/><stop offset="0.20" stop-color="#c3c3c3" stop-opacity="0.849"/><stop offset="0.30" stop-color="#c3c3c3" stop-opacity="0.692"/><stop offset="0.40" stop-color="#c3c3c3" stop-opacity="0.518"/><stop offset="0.50" stop-color="#c3c3c3" stop-opacity="0.356"/><stop offset="0.60" stop-color="#c3c3c3" stop-opacity="0.223"/><stop offset="0.70" stop-color="#c3c3c3" stop-opacity="0.125"/><stop offset="0.80" stop-color="#c3c3c3" stop-opacity="0.060"/><stop offset="0.90" stop-color="#c3c3c3" stop-opacity="0.021"/><stop offset="1.00" stop-color="#c3c3c3" stop-opacity="0.000"/></radialGradient>
<radialGradient id="g55"><stop offset="0.00" stop-color="#bbbbbb" stop-opacity="1.000"/><stop offset="0.10" stop-color="#bbbbbb" stop-opacity="0.960"/><stop offset="0.20" stop-color="#bbbbbb" stop-opacity="0.849"/><stop offset="0.30" stop-color="#bbbbbb" stop-opacity="0.692"/><stop offset="0.40" stop-color="#bbbbbb" stop-opacity="0.518"/><stop offset="0.50" stop-color="#bbbbbb" stop-opacity="0.356"/><stop offset="0.60" stop-color="#bbbbbb" stop-opacity="0.223"/><stop offset="0.70" stop-color="#bbbbbb" stop-opacity="0.125"/><stop offset="0.80" stop-color="#bbbbbb" stop-opacity="0.060"/><stop offset="0.90" stop-color="#bbbbbb" stop-opacity="0.021"/><stop offset="1.00" stop-color="#bbbbbb" stop-opacity="0.000"/></radialGradient>
<radialGradient id="g56"><stop offset="0.00" stop-color="#999999" stop-opacity="1.000"/><stop offset="0.10" stop-color="#999999" stop-opacity="0.960"/><stop offset="0.20" stop-color="#999999" stop-opacity="0.849"/><stop offset="0.30" stop-color="#999999" stop-opacity="0.692"/><stop offset="0.40" stop-color="#999999" stop-opacity="0.518"/><stop offset="0.50" stop-color="#999999" stop-opacity="0.356"/><stop offset="0.60" stop-color="#999999" stop-opacity="0.223"/><stop offset="0.70" stop-color="#999999" stop-opacity="0.125"/><stop offset="0.80" stop-color="#999999" stop-opacity="0.060"/><stop offset="0.90" stop-color="#999999" stop-opacity="0.021"/><stop offset="1.00" stop-color="#999999" stop-opacity="0.000"/></radialGradient>
<radialGradient id="g57"><stop offset="0.00" stop-color="#4d4d4d" stop-opacity="1.000"/><stop offset="0.10" stop-color="#4d4d4d" stop-opacity="0.976"/><stop offset="0.20" stop-color="#4d4d4d" stop-opacity="0.905"/><stop offset="0.30" stop-color="#4d4d4d" stop-opacity="0.798"/><stop offset="0.40" stop-color="#4d4d4d" stop-opacity="0.666"/><stop offset="0.50" stop-color="#4d4d4d" stop-opacity="0.524"/><stop offset="0.60" stop-color="#4d4d4d" stop-opacity="0.385"/><stop offset="0.70" stop-color="#4d4d4d" stop-opacity="0.258"/><stop offset="0.80" stop-color="#4d4d4d" stop-opacity="0.151"/><stop offset="0.90" stop-color="#4d4d4d" stop-opacity="0.065"/><stop offset="1.00" stop-color="#4d4d4d" stop-opacity="0.000"/></radialGradient>
<radialGradient id="g58"><stop offset="0.00" stop-color="#3c3c3c" stop-opacity="1.000"/><stop offset="0.10" stop-color="#3c3c3c" stop-opacity="0.960"/><stop offset="0.20" stop-color="#3c3c3c" stop-opacity="0.849"/><stop offset="0.30" stop-color="#3c3c3c" stop-opacity="0.692"/><stop offset="0.40" stop-color="#3c3c3c" stop-opacity="0.518"/><stop offset="0.50" stop-color="#3c3c3c" stop-opacity="0.356"/><stop offset="0.60" stop-color="#3c3c3c" stop-opacity="0.223"/><stop offset="0.70" stop-color="#3c3c3c" stop-opacity="0.125"/><stop offset="0.80" stop-color="#3c3c3c" stop-opacity="0.060"/><stop offset="0.90" stop-color="#3c3c3c" stop-opacity="0.021"/><stop offset="1.00" stop-color="#3c3c3c" stop-opacity="0.000"/></radialGradient>
<radialGradient id="g59"><stop offset="0.00" stop-color="#1a1a1a" stop-opacity="1.000"/><stop offset="0.10" stop-color="#1a1a1a" stop-opacity="0.960"/><stop offset="0.20" stop-color="#1a1a1a" stop-opacity="0.849"/><stop offset="0.30" stop-color="#1a1a1a" stop-opacity="0.692"/><stop offset="0.40" stop-color="#1a1a1a" stop-opacity="0.518"/><stop offset="0.50" stop-color="#1a1a1a" stop-opacity="0.356"/><stop offset="0.60" stop-color="#1a1a1a" stop-opacity="0.223"/><stop offset="0.70" stop-color="#1a1a1a" stop-opacity="0.125"/><stop offset="0.80" stop-color="#1a1a1a" stop-opacity="0.060"/><stop offset="0.90" stop-color="#1a1a1a" stop-opacity="0.021"/><stop offset="1.00" stop-color="#1a1a1a" stop-opacity="0.000"/></radialGradient>
<radialGradient id="g60"><stop offset="0.00" stop-color="#aaaaaa" stop-opacity="1.000"/><stop offset="0.10" stop-color="#aaaaaa" stop-opacity="0.960"/><stop offset="0.20" stop-color="#aaaaaa" stop-opacity="0.849"/><stop offset="0.30" stop-color="#aaaaaa" stop-opacity="0.692"/><stop offset="0.40" stop-color="#aaaaaa" stop-opacity="0.518"/><stop offset="0.50" stop-color="#aaaaaa" stop-opacity="0.356"/><stop offset="0.60" stop-color="#aaaaaa" stop-opacity="0.223"/><stop offset="0.70" stop-color="#aaaaaa" stop-opacity="0.125"/><stop offset="0.80" stop-color="#aaaaaa" stop-opacity="0.060"/><stop offset="0.90" stop-color="#aaaaaa" stop-opacity="0.021"/><stop offset="1.00" stop-color="#aaaaaa" stop-opacity="0.000"/></radialGradient>
<radialGradient id="g61"><stop offset="0.00" stop-color="#a6a6a6" stop-opacity="1.000"/><stop offset="0.10" stop-color="#a6a6a6" stop-opacity="0.960"/><stop offset="0.20" stop-color="#a6a6a6" stop-opacity="0.849"/><stop offset="0.30" stop-color="#a6a6a6" stop-opacity="0.692"/><stop offset="0.40" stop-color="#a6a6a6" stop-opacity="0.518"/><stop offset="0.50" stop-color="#a6a6a6" stop-opacity="0.356"/><stop offset="0.60" stop-color="#a6a6a6" stop-opacity="0.223"/><stop offset="0.70" stop-color="#a6a6a6" stop-opacity="0.125"/><stop offset="0.80" stop-color="#a6a6a6" stop-opacity="0.060"/><stop offset="0.90" stop-color="#a6a6a6" stop-opacity="0.021"/><stop offset="1.00" stop-color="#a6a6a6" stop-opacity="0.000"/></radialGradient>
<radialGradient id="g62"><stop offset="0.00" stop-color="#4d4d4d" stop-opacity="1.000"/><stop offset="0.10" stop-color="#4d4d4d" stop-opacity="0.960"/><stop offset="0.20" stop-color="#4d4d4d" stop-opacity="0.849"/><stop offset="0.30" stop-color="#4d4d4d" stop-opacity="0.692"/><stop offset="0.40" stop-color="#4d4d4d" stop-opacity="0.518"/><stop offset="0.50" stop-color="#4d4d4d" stop-opacity="0.356"/><stop offset="0.60" stop-color="#4d4d4d" stop-opacity="0.223"/><stop offset="0.70" stop-color="#4d4d4d" stop-opacity="0.125"/><stop offset="0.80" stop-color="#4d4d4d" stop-opacity="0.060"/><stop offset="0.90" stop-color="#4d4d4d" stop-opacity="0.021"/><stop offset="1.00" stop-color="#4d4d4d" stop-opacity="0.000"/></radialGradient>
<radialGradient id="g63"><stop offset="0.00" stop-color="#000000" stop-opacity="1.000"/><stop offset="0.10" stop-color="#000000" stop-opacity="0.960"/><stop offset="0.20" stop-color="#000000" stop-opacity="0.849"/><stop offset="0.30" stop-color="#000000" stop-opacity="0.692"/><stop offset="0.40" stop-color="#000000" stop-opacity="0.518"/><stop offset="0.50" stop-color="#000000" stop-opacity="0.356"/><stop offset="0.60" stop-color="#000000" stop-opacity="0.223"/><stop offset="0.70" stop-color="#000000" stop-opacity="0.125"/><stop offset="0.80" stop-color="#000000" stop-opacity="0.060"/><stop offset="0.90" stop-color="#000000" stop-opacity="0.021"/><stop offset="1.00" stop-color="#000000" stop-opacity="0.000"/></radialGradient>
<radialGradient id="g64"><stop offset="0.00" stop-color="#111111" stop-opacity="1.000"/><stop offset="0.10" stop-color="#111111" stop-opacity="0.960"/><stop offset="0.20" stop-color="#111111" stop-opacity="0.849"/><stop offset="0.30" stop-color="#111111" stop-opacity="0.692"/><stop offset="0.40" stop-color="#111111" stop-opacity="0.518"/><stop offset="0.50" stop-color="#111111" stop-opacity="0.356"/><stop offset="0.60" stop-color="#111111" stop-opacity="0.223"/><stop offset="0.70" stop-color="#111111" stop-opacity="0.125"/><stop offset="0.80" stop-color="#111111" stop-opacity="0.060"/><stop offset="0.90" stop-color="#111111" stop-opacity="0.021"/><stop offset="1.00" stop-color="#111111" stop-opacity="0.000"/></radialGradient>
<radialGradient id="g65"><stop offset="0.00" stop-color="#444444" stop-opacity="1.000"/><stop offset="0.10" stop-color="#444444" stop-opacity="0.960"/><stop offset="0.20" stop-color="#444444" stop-opacity="0.849"/><stop offset="0.30" stop-color="#444444" stop-opacity="0.692"/><stop offset="0.40" stop-color="#444444" stop-opacity="0.518"/><stop offset="0.50" stop-color="#444444" stop-opacity="0.356"/><stop offset="0.60" stop-color="#444444" stop-opacity="0.223"/><stop offset="0.70" stop-color="#444444" stop-opacity="0.125"/><stop offset="0.80" stop-color="#444444" stop-opacity="0.060"/><stop offset="0.90" stop-color="#444444" stop-opacity="0.021"/><stop offset="1.00" stop-color="#444444" stop-opacity="0.000"/></radialGradient>
<radialGradient id="g66"><stop offset="0.00" stop-color="#000000" stop-opacity="1.000"/><stop offset="0.10" stop-color="#000000" stop-opacity="0.960"/><stop offset="0.20" stop-color="#000000" stop-opacity="0.849"/><stop offset="0.30" stop-color="#000000" stop-opacity="0.692"/><stop offset="0.40" stop-color="#000000" stop-opacity="0.518"/><stop offset="0.50" stop-color="#000000" stop-opacity="0.356"/><stop offset="0.60" stop-color="#000000" stop-opacity="0.223"/><stop offset="0.70" stop-color="#000000" stop-opacity="0.125"/><stop offset="0.80" stop-color="#000000" stop-opacity="0.060"/><stop offset="0.90" stop-color="#000000" stop-opacity="0.021"/><stop offset="1.00" stop-color="#000000" stop-opacity="0.000"/></radialGradient>
<radialGradient id="g67"><stop offset="0.00" stop-color="#4d4d4d" stop-opacity="1.000"/><stop offset="0.10" stop-color="#4d4d4d" stop-opacity="0.960"/><stop offset="0.20" stop-color="#4d4d4d" stop-opacity="0.849"/><stop offset="0.30" stop-color="#4d4d4d" stop-opacity="0.692"/><stop offset="0.40" stop-color="#4d4d4d" stop-opacity="0.518"/><stop offset="0.50" stop-color="#4d4d4d" stop-opacity="0.356"/><stop offset="0.60" stop-color="#4d4d4d" stop-opacity="0.223"/><stop offset="0.70" stop-color="#4d4d4d" stop-opacity="0.125"/><stop offset="0.80" stop-color="#4d4d4d" stop-opacity="0.060"/><stop offset="0.90" stop-color="#4d4d4d" stop-opacity="0.021"/><stop offset="1.00" stop-color="#4d4d4d" stop-opacity="0.000"/></radialGradient>
<radialGradient id="g68"><stop offset="0.00" stop-color="#c3c3c3" stop-opacity="1.000"/><stop offset="0.10" stop-color="#c3c3c3" stop-opacity="0.960"/><stop offset="0.20" stop-color="#c3c3c3" stop-opacity="0.849"/><stop offset="0.30" stop-color="#c3c3c3" stop-opacity="0.692"/><stop offset="0.40" stop-color="#c3c3c3" stop-opacity="0.518"/><stop offset="0.50" stop-color="#c3c3c3" stop-opacity="0.356"/><stop offset="0.60" stop-color="#c3c3c3" stop-opacity="0.223"/><stop offset="0.70" stop-color="#c3c3c3" stop-opacity="0.125"/><stop offset="0.80" stop-color="#c3c3c3" stop-opacity="0.060"/><stop offset="0.90" stop-color="#c3c3c3" stop-opacity="0.021"/><stop offset="1.00" stop-color="#c3c3c3" stop-opacity="0.000"/></radialGradient>
<radialGradient id="g69"><stop offset="0.00" stop-color="#bbbbbb" stop-opacity="1.000"/><stop offset="0.10" stop-color="#bbbbbb" stop-opacity="0.960"/><stop offset="0.20" stop-color="#bbbbbb" stop-opacity="0.849"/><stop offset="0.30" stop-color="#bbbbbb" stop-opacity="0.692"/><stop offset="0.40" stop-color="#bbbbbb" stop-opacity="0.518"/><stop offset="0.50" stop-color="#bbbbbb" stop-opacity="0.356"/><stop offset="0.60" stop-color="#bbbbbb" stop-opacity="0.223"/><stop offset="0.70" stop-color="#bbbbbb" stop-opacity="0.125"/><stop offset="0.80" stop-color="#bbbbbb" stop-opacity="0.060"/><stop offset="0.90" stop-color="#bbbbbb" stop-opacity="0.021"/><stop offset="1.00" stop-color="#bbbbbb" stop-opacity="0.000"/></radialGradient>
<radialGradient id="g70"><stop offset="0.00" stop-color="#b2b2b2" stop-opacity="1.000"/><stop offset="0.10" stop-color="#b2b2b2" stop-opacity="0.960"/><stop offset="0.20" stop-color="#b2b2b2" stop-opacity="0.849"/><stop offset="0.30" stop-color="#b2b2b2" stop-opacity="0.692"/><stop offset="0.40" stop-color="#b2b2b2" stop-opacity="0.518"/><stop offset="0.50" stop-color="#b2b2b2" stop-opacity="0.356"/><stop offset="0.60" stop-color="#b2b2b2" stop-opacity="0.223"/><stop offset="0.70" stop-color="#b2b2b2" stop-opacity="0.125"/><stop offset="0.80" stop-color="#b2b2b2" stop-opacity="0.060"/><stop offset="0.90" stop-color="#b2b2b2" stop-opacity="0.021"/><stop offset="1.00" stop-color="#b2b2b2" stop-opacity="0.000"/></radialGradient>
<radialGradient id="g71"><stop offset="0.00" stop-color="#9d9d9d" stop-opacity="1.000"/><stop offset="0.10" stop-color="#9d9d9d" stop-opacity="0.960"/><stop offset="0.20" stop-color="#9d9d9d" stop-opacity="0.849"/><stop offset="0.30" stop-color="#9d9d9d" stop-opacity="0.692"/><stop offset="0.40" stop-color="#9d9d9d" stop-opacity="0.518"/><stop offset="0.50" stop-color="#9d9d9d" stop-opacity="0.356"/><stop offset="0.60" stop-color="#9d9d9d" stop-opacity="0.223"/><stop offset="0.70" stop-color="#9d9d9d" stop-opacity="0.125"/><stop offset="0.80" stop-color="#9d9d9d" stop-opacity="0.060"/><stop offset="0.90" stop-color="#9d9d9d" stop-opacity="0.021"/><stop offset="1.00" stop-color="#9d9d9d" stop-opacity="0.000"/></radialGradient>
</defs>
<rect width="658" height="573" fill="#fff"/>
<g clip-path="url(#ax)">
<g filter="url(#cm)"><rect x="40" y="150" width="520" height="270" fill="#808080"/>
<ellipse cx="115.0" cy="290.0" rx="115.0" ry="125.0" fill="url(#g1)" transform="rotate(0 115.0 290.0)"/>
<ellipse cx="97.0" cy="405.0" rx="38.0" ry="90.0" fill="url(#g2)" transform="rotate(0 97.0 405.0)"/>
<ellipse cx="100.0" cy="320.0" rx="32.0" ry="70.0" fill="url(#g3)" transform="rotate(0 100.0 320.0)"/>
<ellipse cx="120.0" cy="262.0" rx="95.0" ry="28.0" fill="url(#g4)" transform="rotate(-14 120.0 262.0)"/>
<ellipse cx="205.0" cy="248.0" rx="90.0" ry="40.0" fill="url(#g5)" transform="rotate(-22 205.0 248.0)"/>
<ellipse cx="215.0" cy="230.0" rx="55.0" ry="26.0" fill="url(#g6)" transform="rotate(-12 215.0 230.0)"/>
<ellipse cx="52.0" cy="320.0" rx="22.0" ry="60.0" fill="url(#g7)" transform="rotate(0 52.0 320.0)"/>
<ellipse cx="285.0" cy="205.0" rx="45.0" ry="35.0" fill="url(#g8)" transform="rotate(0 285.0 205.0)"/>
<ellipse cx="330.0" cy="225.0" rx="40.0" ry="30.0" fill="url(#g9)" transform="rotate(0 330.0 225.0)"/>
<ellipse cx="318.0" cy="328.0" rx="120.0" ry="90.0" fill="url(#g10)" transform="rotate(0 318.0 328.0)"/>
<ellipse cx="400.0" cy="300.0" rx="90.0" ry="40.0" fill="url(#g11)" transform="rotate(-12 400.0 300.0)"/>
<ellipse cx="438.0" cy="345.0" rx="80.0" ry="70.0" fill="url(#g12)" transform="rotate(0 438.0 345.0)"/>
<ellipse cx="420.0" cy="275.0" rx="70.0" ry="50.0" fill="url(#g13)" transform="rotate(0 420.0 275.0)"/>
<ellipse cx="330.0" cy="400.0" rx="120.0" ry="50.0" fill="url(#g14)" transform="rotate(0 330.0 400.0)"/>
<ellipse cx="496.0" cy="374.0" rx="30.0" ry="70.0" fill="url(#g15)" transform="rotate(-24 496.0 374.0)"/>
<ellipse cx="470.0" cy="305.0" rx="22.0" ry="30.0" fill="url(#g16)" transform="rotate(-40 470.0 305.0)"/>
<ellipse cx="334.0" cy="203.0" rx="9.0" ry="4.0" fill="url(#g53)" transform="rotate(18 334.0 203.0)"/>
<ellipse cx="250.0" cy="193.0" rx="22.0" ry="5.0" fill="url(#g46)" transform="rotate(-5 250.0 193.0)"/>
<ellipse cx="205.0" cy="200.0" rx="8.0" ry="6.0" fill="url(#g48)" transform="rotate(0 205.0 200.0)"/>
<ellipse cx="198.0" cy="206.5" rx="9.0" ry="3.0" fill="url(#g38)" transform="rotate(0 198.0 206.5)"/>
<ellipse cx="160.0" cy="236.0" rx="20.0" ry="6.0" fill="url(#g42)" transform="rotate(-22 160.0 236.0)"/>
<ellipse cx="104.0" cy="249.0" rx="8.0" ry="3.0" fill="url(#g22)" transform="rotate(-30 104.0 249.0)"/>
<ellipse cx="100.0" cy="253.0" rx="9.0" ry="3.0" fill="url(#g23)" transform="rotate(-25 100.0 253.0)"/>
<ellipse cx="110.0" cy="243.5" rx="7.0" ry="6.0" fill="url(#g21)" transform="rotate(-30 110.0 243.5)"/>
<ellipse cx="62.0" cy="256.0" rx="16.0" ry="5.0" fill="url(#g27)" transform="rotate(0 62.0 256.0)"/>
<ellipse cx="186.5" cy="219.5" rx="5.0" ry="4.0" fill="url(#g37)" transform="rotate(0 186.5 219.5)"/>
<ellipse cx="118.0" cy="240.0" rx="5.0" ry="4.0" fill="url(#g25)" transform="rotate(0 118.0 240.0)"/>
<ellipse cx="170.0" cy="197.0" rx="7.0" ry="9.0" fill="url(#g40)" transform="rotate(40 170.0 197.0)"/>
<ellipse cx="222.0" cy="196.5" rx="25.0" ry="8.0" fill="url(#g44)" transform="rotate(3 222.0 196.5)"/>
<ellipse cx="449.0" cy="300.0" rx="6.0" ry="4.0" fill="url(#g56)" transform="rotate(0 449.0 300.0)"/>
<ellipse cx="178.0" cy="188.0" rx="6.0" ry="9.0" fill="url(#g71)" transform="rotate(35 178.0 188.0)"/>
<ellipse cx="178.0" cy="188.0" rx="5.0" ry="9.0" fill="url(#g39)" transform="rotate(35 178.0 188.0)"/>
<ellipse cx="350.0" cy="211.5" rx="15.0" ry="8.0" fill="url(#g52)" transform="rotate(25 350.0 211.5)"/>
<ellipse cx="132.0" cy="240.0" rx="5.0" ry="3.5" fill="url(#g24)" transform="rotate(0 132.0 240.0)"/>
<ellipse cx="316.0" cy="199.0" rx="18.0" ry="8.0" fill="url(#g50)" transform="rotate(10 316.0 199.0)"/>
<ellipse cx="502.0" cy="334.0" rx="4.0" ry="3.0" fill="url(#g61)" transform="rotate(0 502.0 334.0)"/>
<ellipse cx="140.0" cy="224.0" rx="22.0" ry="8.0" fill="url(#g28)" transform="rotate(-32 140.0 224.0)"/>
<ellipse cx="190.0" cy="208.0" rx="28.0" ry="11.0" fill="url(#g33)" transform="rotate(8 190.0 208.0)"/>
<ellipse cx="248.0" cy="196.0" rx="6.0" ry="3.5" fill="url(#g47)" transform="rotate(0 248.0 196.0)"/>
<ellipse cx="493.0" cy="327.0" rx="4.0" ry="3.0" fill="url(#g60)" transform="rotate(0 493.0 327.0)"/>
<ellipse cx="470.0" cy="296.0" rx="14.0" ry="10.0" fill="url(#g57)" transform="rotate(35 470.0 296.0)"/>
<ellipse cx="509.0" cy="330.0" rx="12.0" ry="4.0" fill="url(#g62)" transform="rotate(30 509.0 330.0)"/>
<ellipse cx="516.0" cy="386.0" rx="14.0" ry="14.0" fill="url(#g67)" transform="rotate(0 516.0 386.0)"/>
<ellipse cx="517.0" cy="395.0" rx="2.5" ry="3.0" fill="url(#g70)" transform="rotate(0 517.0 395.0)"/>
<ellipse cx="100.0" cy="244.0" rx="32.0" ry="10.0" fill="url(#g17)" transform="rotate(-20 100.0 244.0)"/>
<ellipse cx="165.0" cy="204.0" rx="20.0" ry="9.0" fill="url(#g30)" transform="rotate(-10 165.0 204.0)"/>
<ellipse cx="429.0" cy="270.0" rx="3.0" ry="4.5" fill="url(#g55)" transform="rotate(0 429.0 270.0)"/>
<ellipse cx="517.0" cy="348.0" rx="7.0" ry="13.0" fill="url(#g65)" transform="rotate(-15 517.0 348.0)"/>
<ellipse cx="521.5" cy="372.0" rx="3.5" ry="4.0" fill="url(#g69)" transform="rotate(0 521.5 372.0)"/>
<ellipse cx="60.0" cy="250.0" rx="10.0" ry="3.5" fill="url(#g26)" transform="rotate(0 60.0 250.0)"/>
<ellipse cx="405.0" cy="251.0" rx="3.0" ry="2.0" fill="url(#g54)" transform="rotate(0 405.0 251.0)"/>
<ellipse cx="471.0" cy="297.0" rx="5.0" ry="4.0" fill="url(#g58)" transform="rotate(35 471.0 297.0)"/>
<ellipse cx="522.0" cy="358.0" rx="2.5" ry="3.0" fill="url(#g68)" transform="rotate(0 522.0 358.0)"/>
<ellipse cx="97.0" cy="245.0" rx="14.0" ry="5.0" fill="url(#g19)" transform="rotate(-22 97.0 245.0)"/>
<ellipse cx="88.0" cy="250.0" rx="11.0" ry="4.5" fill="url(#g18)" transform="rotate(-15 88.0 250.0)"/>
<ellipse cx="176.0" cy="210.0" rx="6.0" ry="8.0" fill="url(#g32)" transform="rotate(20 176.0 210.0)"/>
<ellipse cx="83.0" cy="251.5" rx="7.0" ry="3.5" fill="url(#g20)" transform="rotate(-15 83.0 251.5)"/>
<ellipse cx="199.0" cy="213.5" rx="15.0" ry="5.5" fill="url(#g34)" transform="rotate(5 199.0 213.5)"/>
<ellipse cx="187.0" cy="201.8" rx="14.0" ry="3.5" fill="url(#g35)" transform="rotate(-6 187.0 201.8)"/>
<ellipse cx="317.7" cy="197.7" rx="9.0" ry="5.0" fill="url(#g49)" transform="rotate(10 317.7 197.7)"/>
<ellipse cx="350.5" cy="210.0" rx="7.5" ry="4.5" fill="url(#g51)" transform="rotate(25 350.5 210.0)"/>
<ellipse cx="220.5" cy="194.3" rx="14.0" ry="4.8" fill="url(#g43)" transform="rotate(3 220.5 194.3)"/>
<ellipse cx="467.5" cy="290.5" rx="2.5" ry="3.0" fill="url(#g59)" transform="rotate(0 467.5 290.5)"/>
<ellipse cx="166.0" cy="230.0" rx="14.5" ry="6.2" fill="url(#g41)" transform="rotate(-27 166.0 230.0)"/>
<ellipse cx="143.5" cy="229.5" rx="5.5" ry="4.5" fill="url(#g29)" transform="rotate(0 143.5 229.5)"/>
<ellipse cx="168.0" cy="204.5" rx="12.0" ry="6.0" fill="url(#g31)" transform="rotate(-8 168.0 204.5)"/>
<ellipse cx="515.8" cy="341.5" rx="3.0" ry="4.0" fill="url(#g64)" transform="rotate(0 515.8 341.5)"/>
<ellipse cx="195.3" cy="199.6" rx="3.0" ry="2.5" fill="url(#g36)" transform="rotate(0 195.3 199.6)"/>
<ellipse cx="251.5" cy="188.0" rx="9.0" ry="3.6" fill="url(#g45)" transform="rotate(0 251.5 188.0)"/>
<ellipse cx="519.3" cy="350.3" rx="4.0" ry="5.0" fill="url(#g63)" transform="rotate(0 519.3 350.3)"/>
<ellipse cx="518.5" cy="386.5" rx="7.0" ry="7.5" fill="url(#g66)" transform="rotate(0 518.5 386.5)"/>
</g>
<polygon points="40.0,180.0 114.0,180.0 114.0,213.0 104.0,222.0 92.0,231.0 80.0,238.0 66.0,243.0 51.0,246.0 40.0,247.0" fill="#00ffff" />
<path d="M51.8 161.9h495.5v2.14h-495.5zM51.8 163.9h495.5v2.14h-495.5zM51.8 166.0h495.5v2.14h-495.5zM51.8 168.0h495.5v2.14h-495.5zM51.8 170.1h495.5v2.14h-495.5zM51.8 172.2h495.5v2.14h-495.5zM51.8 174.2h138.4v2.14h-138.4zM196.3 174.2h351.0v2.14h-351.0zM51.8 176.3h134.3v2.14h-134.3zM202.4 176.3h344.8v2.14h-344.8zM51.8 178.3h128.1v2.14h-128.1zM188.0 178.3h359.2v2.14h-359.2zM51.8 180.4h126.0v2.14h-126.0zM185.9 180.4h361.3v2.14h-361.3zM51.8 182.5h123.9v2.14h-123.9zM183.9 182.5h363.4v2.14h-363.4zM51.8 184.5h121.9v2.14h-121.9zM183.9 184.5h64.1v2.14h-64.1zM254.0 184.5h293.2v2.14h-293.2zM51.8 186.6h119.8v2.14h-119.8zM181.8 186.6h55.8v2.14h-55.8zM260.2 186.6h287.0v2.14h-287.0zM51.8 188.6h117.7v2.14h-117.7zM181.8 188.6h53.7v2.14h-53.7zM268.5 188.6h278.7v2.14h-278.7zM51.8 190.7h115.7v2.14h-115.7zM179.7 190.7h53.7v2.14h-53.7zM268.5 190.7h2.1v2.14h-2.1zM303.6 190.7h243.7v2.14h-243.7zM51.8 192.8h113.6v2.14h-113.6zM177.7 192.8h29.0v2.14h-29.0zM311.8 192.8h235.4v2.14h-235.4zM53.8 194.8h107.4v2.14h-107.4zM179.7 194.8h22.8v2.14h-22.8zM326.3 194.8h220.9v2.14h-220.9zM53.8 196.9h103.3v2.14h-103.3zM177.7 196.9h18.7v2.14h-18.7zM245.8 196.9h2.1v2.14h-2.1zM332.5 196.9h214.8v2.14h-214.8zM51.8 198.9h101.2v2.14h-101.2zM177.7 198.9h10.4v2.14h-10.4zM340.7 198.9h206.5v2.14h-206.5zM55.9 201.0h103.3v2.14h-103.3zM346.9 201.0h200.3v2.14h-200.3zM55.9 203.1h10.4v2.14h-10.4zM68.3 203.1h24.9v2.14h-24.9zM95.1 203.1h64.1v2.14h-64.1zM349.0 203.1h198.2v2.14h-198.2zM51.8 205.1h12.5v2.14h-12.5zM68.3 205.1h4.2v2.14h-4.2zM76.5 205.1h4.2v2.14h-4.2zM84.8 205.1h8.3v2.14h-8.3zM97.2 205.1h59.9v2.14h-59.9zM351.1 205.1h196.2v2.14h-196.2zM51.8 207.2h10.4v2.14h-10.4zM86.9 207.2h6.3v2.14h-6.3zM107.5 207.2h45.5v2.14h-45.5zM167.4 207.2h6.3v2.14h-6.3zM353.1 207.2h194.1v2.14h-194.1zM88.9 209.2h2.1v2.14h-2.1zM107.5 209.2h41.4v2.14h-41.4zM165.3 209.2h10.4v2.14h-10.4zM357.3 209.2h190.0v2.14h-190.0zM107.5 211.3h39.3v2.14h-39.3zM161.2 211.3h18.7v2.14h-18.7zM363.4 211.3h183.8v2.14h-183.8zM107.5 213.4h35.2v2.14h-35.2zM155.0 213.4h18.7v2.14h-18.7zM367.6 213.4h179.7v2.14h-179.7zM105.4 215.4h33.1v2.14h-33.1zM152.9 215.4h20.7v2.14h-20.7zM367.6 215.4h179.7v2.14h-179.7zM105.4 217.5h29.0v2.14h-29.0zM150.8 217.5h22.8v2.14h-22.8zM369.6 217.5h177.6v2.14h-177.6zM103.4 219.5h26.9v2.14h-26.9zM144.6 219.5h31.0v2.14h-31.0zM373.8 219.5h173.5v2.14h-173.5zM99.2 221.6h26.9v2.14h-26.9zM142.6 221.6h33.1v2.14h-33.1zM375.8 221.6h171.4v2.14h-171.4zM97.2 223.7h26.9v2.14h-26.9zM142.6 223.7h29.0v2.14h-29.0zM375.8 223.7h171.4v2.14h-171.4zM93.0 225.7h29.0v2.14h-29.0zM144.6 225.7h22.8v2.14h-22.8zM375.8 225.7h171.4v2.14h-171.4zM93.0 227.8h24.9v2.14h-24.9zM144.6 227.8h18.7v2.14h-18.7zM377.9 227.8h169.3v2.14h-169.3zM88.9 229.8h24.9v2.14h-24.9zM150.8 229.8h6.3v2.14h-6.3zM382.0 229.8h165.2v2.14h-165.2zM82.7 231.9h24.9v2.14h-24.9zM111.6 231.9h2.1v2.14h-2.1zM144.6 231.9h2.1v2.14h-2.1zM148.8 231.9h6.3v2.14h-6.3zM384.1 231.9h163.1v2.14h-163.1zM74.5 234.0h31.0v2.14h-31.0zM142.6 234.0h2.1v2.14h-2.1zM388.2 234.0h159.0v2.14h-159.0zM72.4 236.0h26.9v2.14h-26.9zM115.7 236.0h2.1v2.14h-2.1zM390.3 236.0h157.0v2.14h-157.0zM70.3 238.1h31.0v2.14h-31.0zM115.7 238.1h2.1v2.14h-2.1zM392.3 238.1h154.9v2.14h-154.9zM55.9 240.1h39.3v2.14h-39.3zM130.2 240.1h2.1v2.14h-2.1zM398.5 240.1h148.7v2.14h-148.7zM51.8 242.2h37.2v2.14h-37.2zM130.2 242.2h2.1v2.14h-2.1zM400.6 242.2h146.6v2.14h-146.6zM51.8 244.3h26.9v2.14h-26.9zM402.7 244.3h144.6v2.14h-144.6zM51.8 246.3h22.8v2.14h-22.8zM402.7 246.3h144.6v2.14h-144.6zM51.8 248.4h20.7v2.14h-20.7zM74.5 248.4h4.2v2.14h-4.2zM404.7 248.4h142.5v2.14h-142.5zM51.8 250.4h8.3v2.14h-8.3zM66.2 250.4h4.2v2.14h-4.2zM74.5 250.4h10.4v2.14h-10.4zM406.8 250.4h140.4v2.14h-140.4zM53.8 252.5h2.1v2.14h-2.1zM74.5 252.5h12.5v2.14h-12.5zM408.9 252.5h16.6v2.14h-16.6zM431.6 252.5h115.7v2.14h-115.7zM80.7 254.6h2.1v2.14h-2.1zM413.0 254.6h4.2v2.14h-4.2zM435.7 254.6h111.5v2.14h-111.5zM437.8 256.6h109.5v2.14h-109.5zM439.8 258.7h107.4v2.14h-107.4zM439.8 260.7h107.4v2.14h-107.4zM410.9 262.8h8.3v2.14h-8.3zM425.4 262.8h2.1v2.14h-2.1zM441.9 262.8h105.4v2.14h-105.4zM408.9 264.9h20.7v2.14h-20.7zM441.9 264.9h105.4v2.14h-105.4zM410.9 266.9h16.6v2.14h-16.6zM441.9 266.9h105.4v2.14h-105.4zM413.0 269.0h14.5v2.14h-14.5zM444.0 269.0h103.3v2.14h-103.3zM413.0 271.0h14.5v2.14h-14.5zM446.0 271.0h101.2v2.14h-101.2zM415.1 273.1h12.5v2.14h-12.5zM450.1 273.1h97.1v2.14h-97.1zM417.1 275.2h12.5v2.14h-12.5zM452.2 275.2h95.0v2.14h-95.0zM419.2 277.2h12.5v2.14h-12.5zM456.3 277.2h90.9v2.14h-90.9zM421.2 279.3h10.4v2.14h-10.4zM458.4 279.3h88.8v2.14h-88.8zM425.4 281.3h8.3v2.14h-8.3zM460.5 281.3h86.8v2.14h-86.8zM427.4 283.4h8.3v2.14h-8.3zM464.6 283.4h82.6v2.14h-82.6zM429.5 285.5h8.3v2.14h-8.3zM468.7 285.5h78.5v2.14h-78.5zM433.6 287.5h4.2v2.14h-4.2zM468.7 287.5h78.5v2.14h-78.5zM435.7 289.6h2.1v2.14h-2.1zM468.7 289.6h78.5v2.14h-78.5zM470.8 291.6h76.5v2.14h-76.5zM472.9 293.7h74.4v2.14h-74.4zM474.9 295.8h72.3v2.14h-72.3zM477.0 297.8h70.3v2.14h-70.3zM477.0 299.9h70.3v2.14h-70.3zM481.1 301.9h66.1v2.14h-66.1zM466.7 304.0h16.6v2.14h-16.6zM487.3 304.0h59.9v2.14h-59.9zM470.8 306.1h76.5v2.14h-76.5zM472.9 308.1h74.4v2.14h-74.4zM474.9 310.2h72.3v2.14h-72.3zM477.0 312.2h70.3v2.14h-70.3zM481.1 314.3h66.1v2.14h-66.1zM485.2 316.4h62.0v2.14h-62.0zM487.3 318.4h59.9v2.14h-59.9zM489.4 320.5h57.9v2.14h-57.9zM493.5 322.5h53.7v2.14h-53.7zM499.7 324.6h47.6v2.14h-47.6zM503.8 326.7h43.4v2.14h-43.4zM510.0 328.7h37.2v2.14h-37.2zM512.1 330.8h35.2v2.14h-35.2zM514.1 332.8h33.1v2.14h-33.1zM514.1 334.9h33.1v2.14h-33.1zM514.1 337.0h33.1v2.14h-33.1zM514.1 339.0h33.1v2.14h-33.1zM518.3 341.1h29.0v2.14h-29.0zM518.3 343.1h29.0v2.14h-29.0zM518.3 345.2h29.0v2.14h-29.0zM520.3 347.3h26.9v2.14h-26.9zM520.3 349.3h26.9v2.14h-26.9zM522.4 351.4h24.9v2.14h-24.9zM522.4 353.4h24.9v2.14h-24.9zM522.4 355.5h24.9v2.14h-24.9zM522.4 357.6h24.9v2.14h-24.9zM522.4 359.6h24.9v2.14h-24.9zM522.4 361.7h24.9v2.14h-24.9zM522.4 363.7h24.9v2.14h-24.9zM522.4 365.8h24.9v2.14h-24.9zM522.4 367.9h24.9v2.14h-24.9zM522.4 369.9h24.9v2.14h-24.9zM522.4 372.0h24.9v2.14h-24.9zM522.4 374.0h24.9v2.14h-24.9zM522.4 376.1h24.9v2.14h-24.9zM522.4 378.2h24.9v2.14h-24.9zM522.4 380.2h24.9v2.14h-24.9zM522.4 382.3h24.9v2.14h-24.9zM522.4 384.3h24.9v2.14h-24.9zM522.4 386.4h24.9v2.14h-24.9zM522.4 388.5h24.9v2.14h-24.9zM520.3 390.5h26.9v2.14h-26.9zM520.3 392.6h26.9v2.14h-26.9zM520.3 394.6h26.9v2.14h-26.9zM518.3 396.7h29.0v2.14h-29.0zM518.3 398.8h29.0v2.14h-29.0zM518.3 400.8h29.0v2.14h-29.0zM516.2 402.9h31.0v2.14h-31.0zM516.2 404.9h31.0v2.14h-31.0zM518.3 407.0h29.0v2.14h-29.0z" fill="#357b32"/>
<path d="M200.4 176.3h2.1v2.14h-2.1z" fill="#00e8ff"/><path d="M233.4 180.4h8.3v2.14h-8.3zM233.4 182.5h18.7v2.14h-18.7zM231.3 184.5h10.4v2.14h-10.4zM231.3 186.6h8.3v2.14h-8.3zM233.4 188.6h2.1v2.14h-2.1z" fill="#58c0c8"/><path d="M227.2 182.5h4.2v2.14h-4.2z" fill="#28b8c8"/><path d="M231.3 182.5h2.1v2.14h-2.1z" fill="#58c8c8"/><path d="M254.0 184.5h2.1v2.14h-2.1z" fill="#0878ff"/><path d="M382.0 203.1h4.2v2.14h-4.2zM384.1 205.1h2.1v2.14h-2.1zM384.1 207.2h2.1v2.14h-2.1z" fill="#20e8f0"/><path d="M373.8 205.1h2.1v2.14h-2.1z" fill="#00f0ff"/><path d="M386.2 215.4h2.1v2.14h-2.1zM388.2 217.5h2.1v2.14h-2.1zM388.2 219.5h2.1v2.14h-2.1zM388.2 221.6h4.2v2.14h-4.2zM390.3 223.7h2.1v2.14h-2.1zM398.5 223.7h4.2v2.14h-4.2zM390.3 225.7h2.1v2.14h-2.1zM394.4 225.7h6.3v2.14h-6.3zM390.3 227.8h4.2v2.14h-4.2zM390.3 229.8h4.2v2.14h-4.2zM392.3 231.9h2.1v2.14h-2.1zM392.3 234.0h2.1v2.14h-2.1zM392.3 236.0h2.1v2.14h-2.1zM392.3 238.1h4.2v2.14h-4.2z" fill="#10e8f0"/><path d="M386.2 217.5h2.1v2.14h-2.1zM394.4 227.8h2.1v2.14h-2.1z" fill="#10e8f8"/><path d="M402.7 221.6h4.2v2.14h-4.2zM402.7 223.7h2.1v2.14h-2.1z" fill="#30e0e8"/><path d="M400.6 234.0h2.1v2.14h-2.1zM400.6 236.0h4.2v2.14h-4.2zM398.5 238.1h4.2v2.14h-4.2z" fill="#00b8ff"/><path d="M402.7 234.0h2.1v2.14h-2.1zM400.6 240.1h2.1v2.14h-2.1z" fill="#00b0ff"/><path d="M406.8 234.0h6.3v2.14h-6.3zM413.0 238.1h4.2v2.14h-4.2zM415.1 240.1h4.2v2.14h-4.2zM417.1 242.2h6.3v2.14h-6.3zM419.2 244.3h4.2v2.14h-4.2zM423.3 246.3h2.1v2.14h-2.1zM425.4 248.4h2.1v2.14h-2.1zM425.4 250.4h2.1v2.14h-2.1z" fill="#10e0f0"/><path d="M410.9 236.0h4.2v2.14h-4.2zM419.2 240.1h2.1v2.14h-2.1zM423.3 244.3h2.1v2.14h-2.1zM423.3 248.4h2.1v2.14h-2.1z" fill="#10e0f8"/><path d="M425.4 244.3h2.1v2.14h-2.1z" fill="#00a0ff"/><path d="M439.8 256.6h2.1v2.14h-2.1zM441.9 258.7h2.1v2.14h-2.1z" fill="#20d8f0"/><path d="M477.0 301.9h8.3v2.14h-8.3zM485.2 304.0h4.2v2.14h-4.2z" fill="#20d0f0"/><path d="M483.2 304.0h2.1v2.14h-2.1z" fill="#20d0f8"/><path d="M507.9 314.3h4.2v2.14h-4.2zM510.0 316.4h4.2v2.14h-4.2zM512.1 318.4h4.2v2.14h-4.2zM514.1 320.5h12.5v2.14h-12.5zM520.3 322.5h10.4v2.14h-10.4zM528.6 324.6h6.3v2.14h-6.3zM532.7 326.7h6.3v2.14h-6.3zM536.8 328.7h2.1v2.14h-2.1z" fill="#28d8f0"/><path d="M514.1 332.8h2.1v2.14h-2.1zM528.6 334.9h2.1v2.14h-2.1z" fill="#18b8ff"/><path d="M516.2 332.8h2.1v2.14h-2.1zM514.1 334.9h14.5v2.14h-14.5zM530.6 334.9h2.1v2.14h-2.1z" fill="#18b0ff"/><path d="M532.7 332.8h4.2v2.14h-4.2zM532.7 334.9h4.2v2.14h-4.2z" fill="#988880"/>
<path d="M80.7 164.0h2.1v2.06h-2.1zM64.2 168.1h8.3v2.06h-8.3zM60.1 170.1h4.1v2.06h-4.1zM66.2 170.1h2.1v2.06h-2.1zM51.8 172.2h2.1v2.06h-2.1zM55.9 172.2h4.1v2.06h-4.1zM190.1 172.2h6.2v2.06h-6.2zM62.1 174.3h4.1v2.06h-4.1zM186.0 174.3h2.1v2.06h-2.1zM198.4 174.3h4.1v2.06h-4.1zM53.9 176.3h4.1v2.06h-4.1zM55.9 178.4h6.2v2.06h-6.2zM190.1 178.4h2.1v2.06h-2.1zM196.3 178.4h4.1v2.06h-4.1zM53.9 180.4h2.1v2.06h-2.1zM58.0 180.4h2.1v2.06h-2.1zM51.8 182.5h2.1v2.06h-2.1zM55.9 182.5h2.1v2.06h-2.1zM173.6 182.5h2.1v2.06h-2.1zM51.8 184.6h2.1v2.06h-2.1zM183.9 184.6h2.1v2.06h-2.1zM227.3 184.6h2.1v2.06h-2.1zM231.4 184.6h2.1v2.06h-2.1zM239.6 184.6h4.1v2.06h-4.1zM245.8 184.6h2.1v2.06h-2.1zM256.2 184.6h2.1v2.06h-2.1zM51.8 186.6h2.1v2.06h-2.1zM227.3 186.6h4.1v2.06h-4.1zM262.3 186.6h2.1v2.06h-2.1zM53.9 188.7h2.1v2.06h-2.1zM231.4 188.7h2.1v2.06h-2.1zM270.6 188.7h4.1v2.06h-4.1zM283.0 188.7h2.1v2.06h-2.1zM287.1 188.7h2.1v2.06h-2.1zM295.4 188.7h2.1v2.06h-2.1zM301.6 188.7h2.1v2.06h-2.1zM51.8 190.7h4.1v2.06h-4.1zM165.3 190.7h2.1v2.06h-2.1zM51.8 192.8h2.1v2.06h-2.1zM177.7 192.8h2.1v2.06h-2.1zM311.9 192.8h2.1v2.06h-2.1zM322.2 192.8h2.1v2.06h-2.1zM53.9 194.9h2.1v2.06h-2.1zM134.4 194.9h8.3v2.06h-8.3zM157.1 194.9h4.1v2.06h-4.1zM179.8 194.9h2.1v2.06h-2.1zM330.5 194.9h2.1v2.06h-2.1zM128.2 196.9h2.1v2.06h-2.1zM132.3 196.9h2.1v2.06h-2.1zM155.0 196.9h2.1v2.06h-2.1zM51.8 199.0h2.1v2.06h-2.1zM150.9 199.0h2.1v2.06h-2.1zM181.8 199.0h2.1v2.06h-2.1zM55.9 201.0h2.1v2.06h-2.1zM91.0 201.0h2.1v2.06h-2.1zM155.0 201.0h2.1v2.06h-2.1zM86.9 203.1h6.2v2.06h-6.2zM95.1 203.1h6.2v2.06h-6.2zM86.9 205.2h2.1v2.06h-2.1zM99.3 205.2h4.1v2.06h-4.1zM152.9 205.2h2.1v2.06h-2.1zM60.1 207.2h2.1v2.06h-2.1zM89.0 207.2h4.1v2.06h-4.1zM107.5 207.2h2.1v2.06h-2.1zM148.8 207.2h2.1v2.06h-2.1zM113.7 211.3h2.1v2.06h-2.1zM144.7 211.3h2.1v2.06h-2.1zM163.3 211.3h2.1v2.06h-2.1zM384.1 211.3h2.1v2.06h-2.1zM157.1 213.4h2.1v2.06h-2.1zM165.3 213.4h4.1v2.06h-4.1zM105.5 215.5h4.1v2.06h-4.1zM111.7 215.5h2.1v2.06h-2.1zM136.4 215.5h2.1v2.06h-2.1zM152.9 215.5h2.1v2.06h-2.1zM386.2 215.5h4.1v2.06h-4.1zM107.5 217.5h2.1v2.06h-2.1zM113.7 217.5h2.1v2.06h-2.1zM171.5 217.5h2.1v2.06h-2.1zM105.5 219.6h2.1v2.06h-2.1zM126.1 219.6h2.1v2.06h-2.1zM148.8 219.6h2.1v2.06h-2.1zM99.3 221.6h2.1v2.06h-2.1zM103.4 221.6h2.1v2.06h-2.1zM142.6 221.6h2.1v2.06h-2.1zM375.9 221.6h2.1v2.06h-2.1zM101.3 223.7h2.1v2.06h-2.1zM375.9 223.7h2.1v2.06h-2.1zM97.2 225.8h2.1v2.06h-2.1zM144.7 225.8h2.1v2.06h-2.1zM375.9 225.8h2.1v2.06h-2.1zM115.8 227.8h2.1v2.06h-2.1zM377.9 227.8h2.1v2.06h-2.1zM89.0 229.9h2.1v2.06h-2.1zM109.6 229.9h2.1v2.06h-2.1zM82.8 231.9h2.1v2.06h-2.1zM86.9 231.9h2.1v2.06h-2.1zM105.5 231.9h2.1v2.06h-2.1zM150.9 231.9h2.1v2.06h-2.1zM400.6 231.9h2.1v2.06h-2.1zM76.6 234.0h2.1v2.06h-2.1zM82.8 234.0h2.1v2.06h-2.1zM388.3 234.0h2.1v2.06h-2.1zM394.5 234.0h2.1v2.06h-2.1zM400.6 234.0h4.1v2.06h-4.1zM97.2 236.1h2.1v2.06h-2.1zM390.3 236.1h2.1v2.06h-2.1zM60.1 240.2h2.1v2.06h-2.1zM64.2 240.2h6.2v2.06h-6.2zM406.8 240.2h2.1v2.06h-2.1zM53.9 242.2h2.1v2.06h-2.1zM62.1 242.2h4.1v2.06h-4.1zM86.9 242.2h2.1v2.06h-2.1zM400.6 242.2h2.1v2.06h-2.1zM74.5 244.3h2.1v2.06h-2.1zM408.9 244.3h2.1v2.06h-2.1zM53.9 246.4h4.1v2.06h-4.1zM70.4 246.4h2.1v2.06h-2.1zM417.2 246.4h4.1v2.06h-4.1zM51.8 248.4h6.2v2.06h-6.2zM60.1 248.4h4.1v2.06h-4.1zM404.8 248.4h6.2v2.06h-6.2zM419.2 248.4h2.1v2.06h-2.1zM58.0 250.5h2.1v2.06h-2.1zM425.4 250.5h2.1v2.06h-2.1zM429.5 250.5h2.1v2.06h-2.1zM76.6 252.5h2.1v2.06h-2.1zM82.8 252.5h4.1v2.06h-4.1zM408.9 252.5h2.1v2.06h-2.1zM413.0 254.6h2.1v2.06h-2.1zM439.9 260.8h2.1v2.06h-2.1zM415.1 262.8h2.1v2.06h-2.1zM415.1 264.9h2.1v2.06h-2.1zM427.5 264.9h2.1v2.06h-2.1zM417.2 267.0h2.1v2.06h-2.1zM425.4 271.1h2.1v2.06h-2.1zM425.4 273.1h2.1v2.06h-2.1zM417.2 275.2h2.1v2.06h-2.1zM425.4 275.2h2.1v2.06h-2.1zM419.2 277.3h2.1v2.06h-2.1zM423.4 277.3h8.3v2.06h-8.3zM427.5 279.3h4.1v2.06h-4.1zM458.4 279.3h2.1v2.06h-2.1zM427.5 283.4h2.1v2.06h-2.1zM433.7 283.4h2.1v2.06h-2.1zM464.6 283.4h4.1v2.06h-4.1zM435.7 287.6h2.1v2.06h-2.1zM468.8 287.6h2.1v2.06h-2.1zM470.8 291.7h2.1v2.06h-2.1zM472.9 293.7h2.1v2.06h-2.1zM475.0 295.8h2.1v2.06h-2.1zM481.1 302.0h4.1v2.06h-4.1zM466.7 304.0h4.1v2.06h-4.1zM479.1 312.3h2.1v2.06h-2.1zM485.3 316.4h2.1v2.06h-2.1zM491.5 320.5h2.1v2.06h-2.1zM526.6 322.6h2.1v2.06h-2.1zM503.9 326.7h4.1v2.06h-4.1zM510.0 328.8h2.1v2.06h-2.1zM534.8 328.8h4.1v2.06h-4.1zM534.8 330.8h4.1v2.06h-4.1zM532.8 332.9h2.1v2.06h-2.1zM514.2 334.9h2.1v2.06h-2.1zM516.2 339.1h2.1v2.06h-2.1zM538.9 341.1h2.1v2.06h-2.1zM538.9 343.2h2.1v2.06h-2.1zM522.4 357.6h2.1v2.06h-2.1zM522.4 359.7h2.1v2.06h-2.1zM522.4 367.9h2.1v2.06h-2.1zM522.4 370.0h2.1v2.06h-2.1zM522.4 372.0h2.1v2.06h-2.1zM522.4 374.1h2.1v2.06h-2.1zM522.4 376.1h2.1v2.06h-2.1zM522.4 380.3h2.1v2.06h-2.1zM522.4 388.5h2.1v2.06h-2.1zM520.4 394.7h2.1v2.06h-2.1zM516.2 402.9h2.1v2.06h-2.1zM516.2 405.0h2.1v2.06h-2.1z" fill="#5e8e24"/><path d="M78.6 164.0h2.1v2.06h-2.1zM72.4 168.1h2.1v2.06h-2.1zM58.0 170.1h2.1v2.06h-2.1zM64.2 170.1h2.1v2.06h-2.1zM68.3 170.1h4.1v2.06h-4.1zM53.9 172.2h2.1v2.06h-2.1zM60.1 172.2h6.2v2.06h-6.2zM51.8 174.3h10.3v2.06h-10.3zM51.8 176.3h2.1v2.06h-2.1zM58.0 176.3h6.2v2.06h-6.2zM66.2 176.3h2.1v2.06h-2.1zM51.8 178.4h4.1v2.06h-4.1zM62.1 178.4h4.1v2.06h-4.1zM51.8 180.4h2.1v2.06h-2.1zM55.9 180.4h2.1v2.06h-2.1zM60.1 180.4h4.1v2.06h-4.1zM58.0 182.5h2.1v2.06h-2.1zM183.9 182.5h2.1v2.06h-2.1zM247.9 182.5h2.1v2.06h-2.1zM53.9 184.6h2.1v2.06h-2.1zM58.0 184.6h2.1v2.06h-2.1zM171.5 184.6h2.1v2.06h-2.1zM262.3 184.6h2.1v2.06h-2.1zM231.4 186.6h2.1v2.06h-2.1zM51.8 188.7h2.1v2.06h-2.1zM268.5 188.7h2.1v2.06h-2.1zM285.1 188.7h2.1v2.06h-2.1zM297.4 188.7h2.1v2.06h-2.1zM212.8 190.7h2.1v2.06h-2.1zM219.0 190.7h2.1v2.06h-2.1zM130.2 196.9h2.1v2.06h-2.1zM134.4 196.9h4.1v2.06h-4.1zM177.7 196.9h2.1v2.06h-2.1zM188.0 196.9h2.1v2.06h-2.1zM245.8 196.9h2.1v2.06h-2.1zM336.7 196.9h2.1v2.06h-2.1zM157.1 201.0h2.1v2.06h-2.1zM82.8 203.1h2.1v2.06h-2.1zM68.3 205.2h4.1v2.06h-4.1zM89.0 205.2h4.1v2.06h-4.1zM97.2 205.2h2.1v2.06h-2.1zM169.5 207.2h4.1v2.06h-4.1zM89.0 209.3h2.1v2.06h-2.1zM173.6 209.3h2.1v2.06h-2.1zM109.6 211.3h2.1v2.06h-2.1zM142.6 211.3h2.1v2.06h-2.1zM173.6 211.3h4.1v2.06h-4.1zM111.7 213.4h2.1v2.06h-2.1zM380.0 213.4h4.1v2.06h-4.1zM109.6 215.5h2.1v2.06h-2.1zM380.0 215.5h2.1v2.06h-2.1zM105.5 217.5h2.1v2.06h-2.1zM109.6 217.5h2.1v2.06h-2.1zM130.2 217.5h2.1v2.06h-2.1zM382.1 217.5h2.1v2.06h-2.1zM103.4 219.6h2.1v2.06h-2.1zM107.5 219.6h4.1v2.06h-4.1zM101.3 221.6h2.1v2.06h-2.1zM173.6 221.6h2.1v2.06h-2.1zM97.2 223.7h4.1v2.06h-4.1zM103.4 223.7h2.1v2.06h-2.1zM95.1 225.8h2.1v2.06h-2.1zM99.3 225.8h2.1v2.06h-2.1zM117.9 225.8h2.1v2.06h-2.1zM93.1 227.8h2.1v2.06h-2.1zM146.8 227.8h4.1v2.06h-4.1zM402.7 227.8h2.1v2.06h-2.1zM91.0 229.9h2.1v2.06h-2.1zM150.9 229.9h2.1v2.06h-2.1zM402.7 229.9h2.1v2.06h-2.1zM84.8 231.9h2.1v2.06h-2.1zM89.0 231.9h2.1v2.06h-2.1zM144.7 231.9h2.1v2.06h-2.1zM384.1 231.9h2.1v2.06h-2.1zM406.8 231.9h4.1v2.06h-4.1zM78.6 234.0h4.1v2.06h-4.1zM99.3 234.0h2.1v2.06h-2.1zM142.6 234.0h2.1v2.06h-2.1zM406.8 234.0h2.1v2.06h-2.1zM72.4 236.1h2.1v2.06h-2.1zM76.6 236.1h2.1v2.06h-2.1zM115.8 236.1h2.1v2.06h-2.1zM402.7 236.1h2.1v2.06h-2.1zM95.1 238.1h2.1v2.06h-2.1zM99.3 238.1h2.1v2.06h-2.1zM115.8 238.1h2.1v2.06h-2.1zM55.9 240.2h4.1v2.06h-4.1zM62.1 240.2h2.1v2.06h-2.1zM93.1 240.2h2.1v2.06h-2.1zM130.2 240.2h2.1v2.06h-2.1zM55.9 242.2h6.2v2.06h-6.2zM66.2 242.2h4.1v2.06h-4.1zM78.6 242.2h4.1v2.06h-4.1zM84.8 242.2h2.1v2.06h-2.1zM130.2 242.2h2.1v2.06h-2.1zM404.8 242.2h2.1v2.06h-2.1zM53.9 244.3h4.1v2.06h-4.1zM62.1 244.3h4.1v2.06h-4.1zM68.3 244.3h2.1v2.06h-2.1zM404.8 244.3h2.1v2.06h-2.1zM411.0 244.3h2.1v2.06h-2.1zM51.8 246.4h2.1v2.06h-2.1zM404.8 246.4h2.1v2.06h-2.1zM417.2 248.4h2.1v2.06h-2.1zM421.3 248.4h2.1v2.06h-2.1zM51.8 250.5h2.1v2.06h-2.1zM55.9 250.5h2.1v2.06h-2.1zM74.5 250.5h8.3v2.06h-8.3zM417.2 252.5h2.1v2.06h-2.1zM413.0 262.8h2.1v2.06h-2.1zM423.4 264.9h2.1v2.06h-2.1zM444.0 269.0h2.1v2.06h-2.1zM421.3 279.3h2.1v2.06h-2.1zM425.4 279.3h2.1v2.06h-2.1zM425.4 281.4h2.1v2.06h-2.1zM431.6 285.5h2.1v2.06h-2.1zM477.0 297.9h2.1v2.06h-2.1zM472.9 304.0h2.1v2.06h-2.1zM483.2 306.1h2.1v2.06h-2.1zM472.9 308.2h2.1v2.06h-2.1zM487.3 318.5h2.1v2.06h-2.1zM489.4 320.5h2.1v2.06h-2.1zM493.5 322.6h6.2v2.06h-6.2zM499.7 324.6h2.1v2.06h-2.1zM536.9 326.7h2.1v2.06h-2.1zM528.6 328.8h2.1v2.06h-2.1zM532.8 328.8h2.1v2.06h-2.1zM530.7 330.8h4.1v2.06h-4.1zM538.9 330.8h2.1v2.06h-2.1zM536.9 332.9h2.1v2.06h-2.1zM520.4 349.4h2.1v2.06h-2.1zM522.4 351.4h2.1v2.06h-2.1zM522.4 353.5h2.1v2.06h-2.1zM522.4 355.5h2.1v2.06h-2.1zM520.4 392.6h2.1v2.06h-2.1z" fill="#86a414"/>
</g>
<rect x="51.45" y="161.5" width="496.05" height="247.8" fill="none" stroke="#000" stroke-width="1.1"/>
<line x1="46.05" y1="191.5" x2="51.45" y2="191.5" stroke="#000" stroke-width="1.1"/>
<text x="40" y="196.1" font-size="14" text-anchor="end" textLength="29.4" lengthAdjust="spacingAndGlyphs">60.0</text>
<line x1="46.05" y1="222.4" x2="51.45" y2="222.4" stroke="#000" stroke-width="1.1"/>
<text x="40" y="227" font-size="14" text-anchor="end" textLength="29.4" lengthAdjust="spacingAndGlyphs">57.5</text>
<line x1="46.05" y1="253.3" x2="51.45" y2="253.3" stroke="#000" stroke-width="1.1"/>
<text x="40" y="257.9" font-size="14" text-anchor="end" textLength="29.4" lengthAdjust="spacingAndGlyphs">55.0</text>
<line x1="46.05" y1="284.2" x2="51.45" y2="284.2" stroke="#000" stroke-width="1.1"/>
<text x="40" y="288.8" font-size="14" text-anchor="end" textLength="29.4" lengthAdjust="spacingAndGlyphs">52.5</text>
<line x1="46.05" y1="315.1" x2="51.45" y2="315.1" stroke="#000" stroke-width="1.1"/>
<text x="40" y="319.7" font-size="14" text-anchor="end" textLength="29.4" lengthAdjust="spacingAndGlyphs">50.0</text>
<line x1="46.05" y1="346" x2="51.45" y2="346" stroke="#000" stroke-width="1.1"/>
<text x="40" y="350.6" font-size="14" text-anchor="end" textLength="29.4" lengthAdjust="spacingAndGlyphs">47.5</text>
<line x1="46.05" y1="376.9" x2="51.45" y2="376.9" stroke="#000" stroke-width="1.1"/>
<text x="40" y="381.5" font-size="14" text-anchor="end" textLength="29.4" lengthAdjust="spacingAndGlyphs">45.0</text>
<line x1="46.05" y1="407.8" x2="51.45" y2="407.8" stroke="#000" stroke-width="1.1"/>
<text x="40" y="412.4" font-size="14" text-anchor="end" textLength="29.4" lengthAdjust="spacingAndGlyphs">42.5</text>
<line x1="77.5" y1="409.3" x2="77.5" y2="414.7" stroke="#000" stroke-width="1.1"/>
<text transform="translate(76.9,430.3) rotate(-20)" x="0" y="5" font-size="14" text-anchor="middle" textLength="36.5" lengthAdjust="spacingAndGlyphs">−160</text>
<line x1="139.5" y1="409.3" x2="139.5" y2="414.7" stroke="#000" stroke-width="1.1"/>
<text transform="translate(138.9,430.3) rotate(-20)" x="0" y="5" font-size="14" text-anchor="middle" textLength="36.5" lengthAdjust="spacingAndGlyphs">−155</text>
<line x1="201.5" y1="409.3" x2="201.5" y2="414.7" stroke="#000" stroke-width="1.1"/>
<text transform="translate(200.9,430.3) rotate(-20)" x="0" y="5" font-size="14" text-anchor="middle" textLength="36.5" lengthAdjust="spacingAndGlyphs">−150</text>
<line x1="263.5" y1="409.3" x2="263.5" y2="414.7" stroke="#000" stroke-width="1.1"/>
<text transform="translate(262.9,430.3) rotate(-20)" x="0" y="5" font-size="14" text-anchor="middle" textLength="36.5" lengthAdjust="spacingAndGlyphs">−145</text>
<line x1="325.5" y1="409.3" x2="325.5" y2="414.7" stroke="#000" stroke-width="1.1"/>
<text transform="translate(324.9,430.3) rotate(-20)" x="0" y="5" font-size="14" text-anchor="middle" textLength="36.5" lengthAdjust="spacingAndGlyphs">−140</text>
<line x1="387.5" y1="409.3" x2="387.5" y2="414.7" stroke="#000" stroke-width="1.1"/>
<text transform="translate(386.9,430.3) rotate(-20)" x="0" y="5" font-size="14" text-anchor="middle" textLength="36.5" lengthAdjust="spacingAndGlyphs">−135</text>
<line x1="449.5" y1="409.3" x2="449.5" y2="414.7" stroke="#000" stroke-width="1.1"/>
<text transform="translate(448.9,430.3) rotate(-20)" x="0" y="5" font-size="14" text-anchor="middle" textLength="36.5" lengthAdjust="spacingAndGlyphs">−130</text>
<line x1="511.5" y1="409.3" x2="511.5" y2="414.7" stroke="#000" stroke-width="1.1"/>
<text transform="translate(510.9,430.3) rotate(-20)" x="0" y="5" font-size="14" text-anchor="middle" textLength="36.5" lengthAdjust="spacingAndGlyphs">−125</text>
<text x="298.6" y="153" font-size="17" text-anchor="middle" textLength="209.5" lengthAdjust="spacingAndGlyphs">8:30:00 after earthquake</text>
<rect x="578.5" y="16.3" width="27" height="539" fill="url(#cb)" stroke="#000" stroke-width="1.1"/>
<line x1="605.5" y1="16.3" x2="610.9" y2="16.3" stroke="#000" stroke-width="1.1"/>
<text x="615.5" y="20.5" font-size="14" textLength="20.5" lengthAdjust="spacingAndGlyphs">1.5</text>
<line x1="605.5" y1="106.133" x2="610.9" y2="106.133" stroke="#000" stroke-width="1.1"/>
<text x="615.5" y="110.333" font-size="14" textLength="20.5" lengthAdjust="spacingAndGlyphs">1.0</text>
<line x1="605.5" y1="195.967" x2="610.9" y2="195.967" stroke="#000" stroke-width="1.1"/>
<text x="615.5" y="200.167" font-size="14" textLength="20.5" lengthAdjust="spacingAndGlyphs">0.5</text>
<line x1="605.5" y1="285.8" x2="610.9" y2="285.8" stroke="#000" stroke-width="1.1"/>
<text x="615.5" y="290" font-size="14" textLength="20.5" lengthAdjust="spacingAndGlyphs">0.0</text>
<line x1="605.5" y1="375.633" x2="610.9" y2="375.633" stroke="#000" stroke-width="1.1"/>
<text x="615.5" y="379.833" font-size="14" textLength="32.5" lengthAdjust="spacingAndGlyphs">−0.5</text>
<line x1="605.5" y1="465.467" x2="610.9" y2="465.467" stroke="#000" stroke-width="1.1"/>
<text x="615.5" y="469.667" font-size="14" textLength="32.5" lengthAdjust="spacingAndGlyphs">−1.0</text>
<line x1="605.5" y1="555.3" x2="610.9" y2="555.3" stroke="#000" stroke-width="1.1"/>
<text x="615.5" y="559.5" font-size="14" textLength="32.5" lengthAdjust="spacingAndGlyphs">−1.5</text>
</svg></body></html>
